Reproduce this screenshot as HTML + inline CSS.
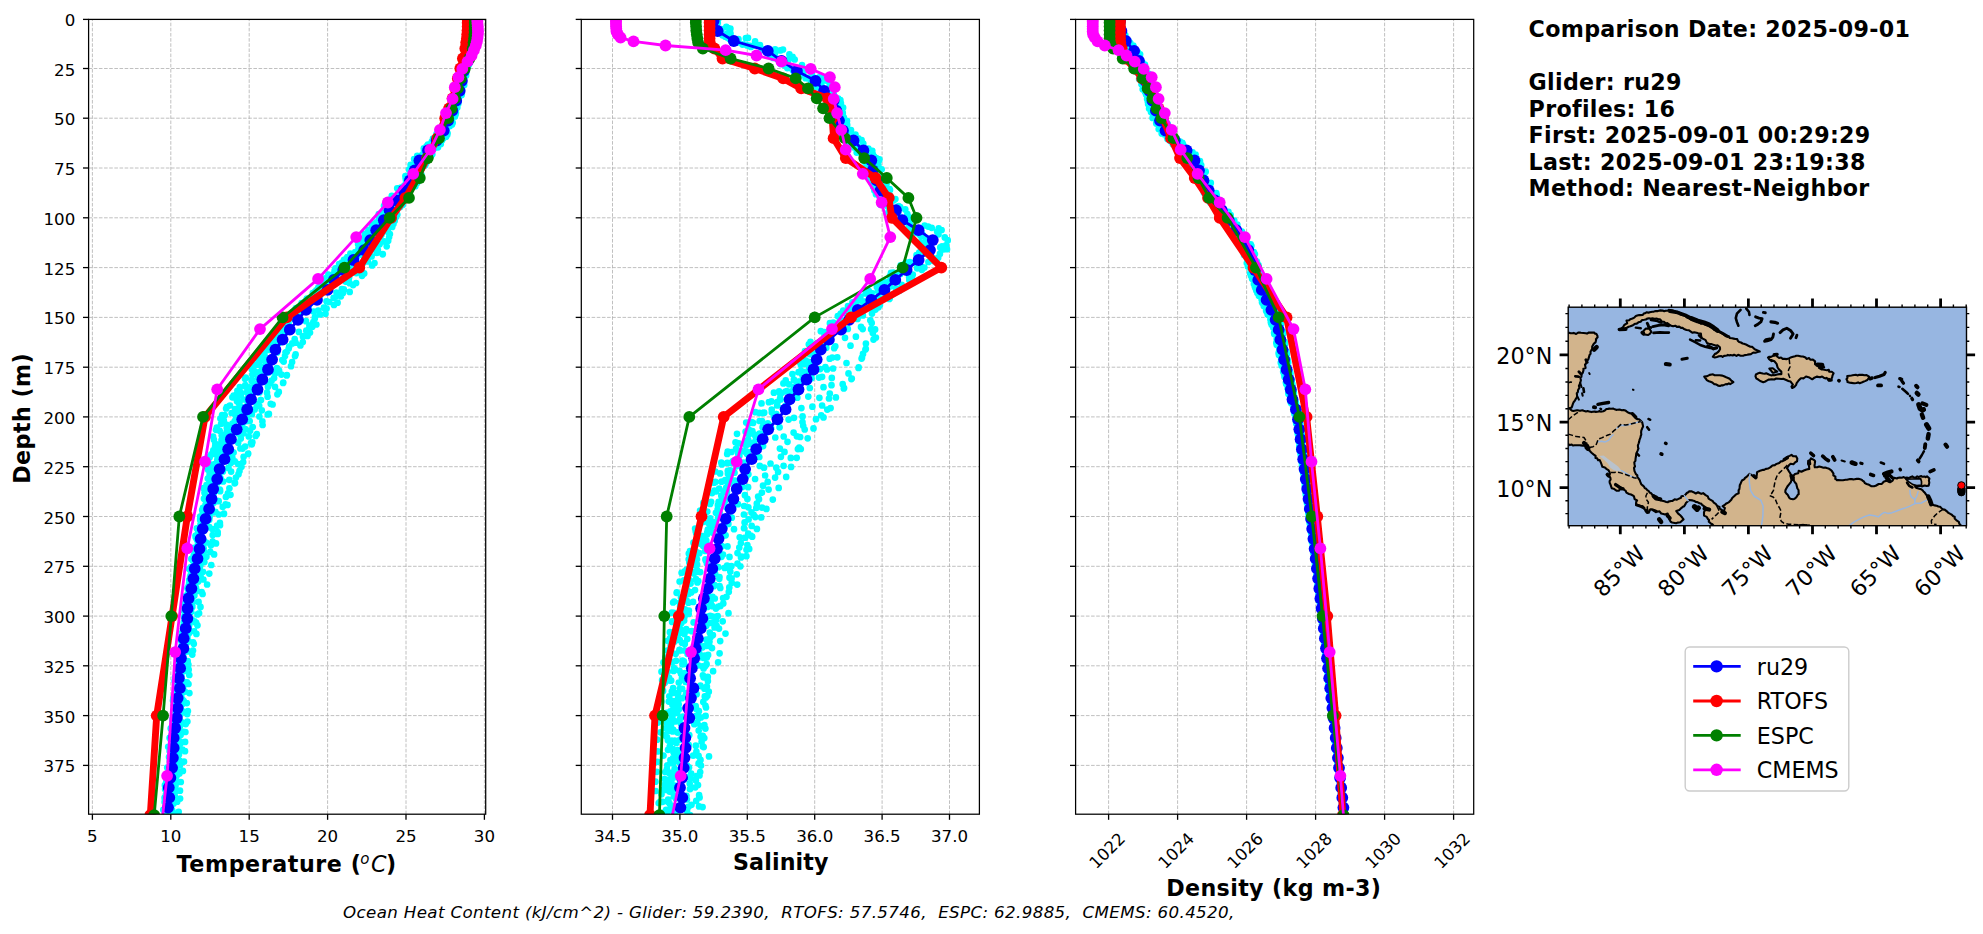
<!DOCTYPE html>
<html><head><meta charset="utf-8"><title>Glider comparison</title>
<style>html,body{margin:0;padding:0;background:#fff}svg{display:block}</style></head>
<body>
<svg width="1983" height="934" viewBox="0 0 1983 934" font-family='"DejaVu Sans","Liberation Sans",sans-serif'>
<rect width="1983" height="934" fill="#fff"/>
<defs>
<clipPath id="ca1"><rect x="88.6" y="19.4" width="397.1" height="794.8000000000001"/></clipPath>
<clipPath id="ca2"><rect x="581.3" y="19.4" width="398.1" height="794.8000000000001"/></clipPath>
<clipPath id="ca3"><rect x="1075.6" y="19.4" width="398.10000000000014" height="794.8000000000001"/></clipPath>
</defs>
<g stroke="#b0b0b0" stroke-width="0.8" stroke-dasharray="3.6 1.55" fill="none">
<path d="M92.4 814.2V19.4"/>
<path d="M170.8 814.2V19.4"/>
<path d="M249.2 814.2V19.4"/>
<path d="M327.6 814.2V19.4"/>
<path d="M406 814.2V19.4"/>
<path d="M484.4 814.2V19.4"/>
<path d="M88.6 68.5H485.7"/>
<path d="M88.6 118.2H485.7"/>
<path d="M88.6 168H485.7"/>
<path d="M88.6 217.8H485.7"/>
<path d="M88.6 267.6H485.7"/>
<path d="M88.6 317.4H485.7"/>
<path d="M88.6 367.2H485.7"/>
<path d="M88.6 416.9H485.7"/>
<path d="M88.6 466.7H485.7"/>
<path d="M88.6 516.5H485.7"/>
<path d="M88.6 566.3H485.7"/>
<path d="M88.6 616.1H485.7"/>
<path d="M88.6 665.8H485.7"/>
<path d="M88.6 715.6H485.7"/>
<path d="M88.6 765.4H485.7"/>
</g>
<g clip-path="url(#ca1)">
<path fill="none" stroke="#00ffff" stroke-width="6.7" stroke-linecap="round" d="M472.6 22.2h0M472.8 31.1h0M472.1 41.9h0M470.3 52.6h0M467.7 60.5h0M462.9 71.4h0M461 79.9h0M458.3 90.5h0M454.6 99.9h0M449.2 111.4h0M445.5 120.4h0M439 131.8h0M431.8 141.7h0M423.9 151.3h0M418.1 158.9h0M411.5 170.9h0M406.4 181.3h0M399.4 191.4h0M392.2 199.7h0M387.4 210.7h0M382 220.2h0M373.1 230.3h0M366.4 242.1h0M361.4 250.2h0M350 261h0M339.1 271.8h0M329.9 280.3h0M325.4 290.8h0M311.4 300.9h0M303 310.9h0M294.7 319.5h0M285.2 330.8h0M277 342h0M270.1 349.1h0M259.7 361.4h0M253.8 370.6h0M251.8 379.8h0M240.7 392.4h0M237 401.2h0M235.3 409.2h0M223.8 420.4h0M219.7 430.8h0M221.5 440h0M219.5 450.9h0M217.2 460.1h0M213.7 470.8h0M210.1 481.5h0M206.5 489.3h0M207 500.2h0M204.1 509.5h0M200.2 520h0M199.4 528.6h0M196.8 539.2h0M196 549.5h0M192.8 560.6h0M191 570.8h0M190.3 578.3h0M188.5 588.8h0M186.6 600.2h0M185.2 607.5h0M185.4 619h0M183.7 629.3h0M182.7 640.6h0M179.6 650h0M178.9 658.9h0M177.4 668.9h0M176.2 678.9h0M175.8 690.6h0M175.2 698.7h0M175.8 708.7h0M174.3 719.4h0M172.9 728.8h0M171.1 738.7h0M171.7 747.8h0M170.1 758.8h0M167.9 768.3h0M166.8 779.9h0M165.1 789.3h0M164.7 798.6h0M165.2 809.3h0M473.7 20.1h0M473.7 28.9h0M473.2 39.1h0M472.8 51.1h0M468.6 60.1h0M465.6 69.9h0M462.7 79.8h0M461.2 89.8h0M457.4 100.5h0M454.6 110.2h0M451.8 119.9h0M447 128.6h0M441.4 140.1h0M433.7 148.8h0M422.7 160.6h0M419.9 168.2h0M415 179.3h0M409.2 189.3h0M401.8 198h0M393 211h0M388.5 220.7h0M382.7 228.7h0M376.7 239.9h0M375.1 249.5h0M371.6 256.4h0M352.5 269.2h0M348.7 278.9h0M341.9 289h0M333.6 297.8h0M326.6 308.6h0M314.8 318.6h0M309.1 329.9h0M294.7 339h0M288.7 348.6h0M282.3 360.1h0M276.9 368h0M274.1 378.1h0M267.9 386.7h0M261 400h0M254.7 409.4h0M247.2 419.3h0M245.3 429h0M240.8 438.4h0M240.4 448.4h0M232.4 457.9h0M228.5 467.9h0M220.5 478.1h0M219.8 489.5h0M213.8 498.6h0M209.6 507.9h0M209.6 517.3h0M209.4 527.2h0M202.7 539.4h0M203.7 548.3h0M203 557.8h0M199.9 567.3h0M200.7 576.5h0M196 587.5h0M192 598.4h0M192.3 607.1h0M189 617.2h0M188.8 627.2h0M184.8 637.5h0M184.1 645.8h0M180.9 657.1h0M184.5 666.4h0M179.8 678.1h0M180.7 686.4h0M178.6 697.7h0M179.1 708.6h0M178.3 716.7h0M178.9 726.4h0M173.6 737.1h0M173.1 746.9h0M172.5 755.9h0M171.4 767.3h0M171.5 778.8h0M170.9 786.5h0M169.3 796.5h0M168.6 805.6h0M472.9 28.3h0M472.9 34.1h0M471.6 47.4h0M468.9 55.7h0M464.3 67.8h0M462 75.6h0M460.1 86.4h0M457.4 95.1h0M453.5 105.6h0M449.2 117.9h0M445.6 127.3h0M439.9 136h0M430.7 145.5h0M422.8 154.5h0M416.3 165.9h0M410.2 176.2h0M403.9 186.1h0M397.8 196.1h0M392 205h0M384.4 216h0M377.2 226h0M370.4 237.3h0M367.7 247.8h0M357.6 255.8h0M348 265.1h0M337.5 275.8h0M330.3 285.2h0M320.2 295h0M308.9 305.6h0M298.2 314.6h0M288.6 326.2h0M279.3 335.5h0M273 345.8h0M264.5 355.3h0M258.1 364.7h0M252.4 374.5h0M245.3 385.1h0M240.9 394.8h0M230 405.5h0M224.7 415.2h0M221.1 423.8h0M221.7 435.2h0M215.3 443.8h0M211.3 454.4h0M210.8 464.7h0M211.8 472.9h0M206.5 485h0M205.4 495h0M206.2 504.7h0M203 514.4h0M200.5 524.4h0M197.7 533.7h0M198.8 544.4h0M197.6 554.1h0M194.5 564.7h0M193.4 573.3h0M189.6 584.7h0M189.6 594.6h0M187.6 604.3h0M188.1 613.9h0M187.3 624.9h0M184.7 632.6h0M182.5 644.7h0M182.6 654.4h0M179.9 664.4h0M179 674.5h0M178.7 683.4h0M177.6 693.7h0M175.3 704.6h0M176.8 714.3h0M174.9 724.1h0M174.1 732.3h0M174.4 744.3h0M172.4 754.9h0M170.8 764.7h0M170.1 773.9h0M168.6 782.1h0M168.3 794.5h0M168 803.4h0M166.1 811h0M473.5 19.4h0M473.6 31.1h0M472.7 40.7h0M471.7 50.5h0M467.3 60.6h0M464 70.1h0M461.9 80h0M459.8 88.9h0M455.2 100.5h0M450.4 112.3h0M445.5 122.4h0M441.2 131.7h0M435.7 141.1h0M426.4 149.7h0M418.5 161.7h0M413.8 170.2h0M409.9 180.1h0M402.4 189.9h0M393.3 200.2h0M387.9 209.6h0M381.6 219.9h0M373.6 228.9h0M366.4 239.6h0M355.2 252.2h0M344 259.8h0M336.2 269.6h0M324.7 280.3h0M316.3 290.4h0M306.9 298.6h0M295.3 309.4h0M285 320.5h0M276.6 329.8h0M268.7 339.6h0M261.1 351h0M256.7 358.7h0M252 369.5h0M245 378.8h0M237.4 390.8h0M232.4 397.3h0M226.1 408.5h0M220.4 418.6h0M216 429.8h0M213.9 439.7h0M213.3 450.4h0M209.6 457.4h0M208.1 469.7h0M207.8 478.6h0M203.6 488.2h0M204.6 499.3h0M203 507.8h0M200.2 516.6h0M196.8 528.3h0M195.6 537.1h0M194.2 547.9h0M191.4 558.9h0M189 568.8h0M189.2 580h0M187.4 588.2h0M185.9 596.8h0M185.3 607.6h0M185.1 617.4h0M185.3 627h0M181.5 638.6h0M182.8 647.5h0M180.8 656.1h0M182.4 668.8h0M181.4 677.9h0M178.8 688.3h0M177.7 698h0M179.8 708.5h0M179.3 717.9h0M177.8 729h0M175.5 738.2h0M176.1 748.1h0M175.3 758.1h0M173.4 766.2h0M173 777.4h0M168 787.3h0M170.8 797.7h0M168 806.1h0M472.1 28.8h0M471.6 38.1h0M470.8 49.3h0M468.1 58h0M464 68h0M460.9 77.3h0M458.4 88.8h0M455.5 99.2h0M449.8 109.7h0M444.8 118.5h0M439.1 129.7h0M433 138.6h0M423.8 148.4h0M414.1 159h0M409 169.5h0M405.6 178h0M399.2 188.1h0M391.4 198.1h0M385.4 208.3h0M379.2 217.3h0M370.9 229.2h0M365.3 237.7h0M360.2 248.5h0M347.2 257.2h0M335.4 268.4h0M325 278.3h0M318.3 287.5h0M306.3 299.9h0M296 308.2h0M285.9 319.5h0M277.6 328.7h0M270.8 337h0M262.5 347.3h0M257 358h0M252.4 367.6h0M245.8 377.6h0M239.8 387.2h0M233.7 395.6h0M226.8 407.2h0M222.1 415.1h0M216.8 427.7h0M213.1 436.5h0M215.1 446.5h0M209.1 457h0M208.9 467.4h0M209.5 475.7h0M206.7 485.3h0M205.3 495.9h0M205.5 504.9h0M202.7 515.9h0M198.8 528.4h0M195.5 535.8h0M195.7 547.4h0M193.7 555.4h0M190.9 567h0M190.1 576.3h0M188.3 586.5h0M185.5 597.1h0M183.3 608.3h0M184.2 616.7h0M183.2 626.6h0M181.8 635.4h0M181.5 646.9h0M178.8 656.1h0M177.6 667.1h0M177.3 676.2h0M176.6 687.9h0M176.5 694.2h0M175.4 705.8h0M174.8 716.9h0M172.6 725.6h0M171.6 735.2h0M171.6 745.6h0M171.4 754.5h0M170.5 765.9h0M167.9 778.2h0M166.3 786.9h0M165.9 794.6h0M165.7 804.8h0M474.6 26.2h0M475.1 37.1h0M474.7 48.2h0M472.3 56.4h0M468.8 64.9h0M466.1 75.5h0M464.2 84.9h0M461.6 95.1h0M457.3 107.5h0M454.9 116.4h0M452 124.6h0M446.1 136.7h0M438 147.3h0M431.2 155.7h0M425.1 165.3h0M420.4 175.6h0M415.3 186.2h0M408.3 196.5h0M400.2 207h0M396 217h0M392.2 226.9h0M389.1 237h0M386.7 246.3h0M382.8 254.1h0M372.1 265.4h0M362 275.8h0M353.1 285.1h0M340.9 296.3h0M334 305h0M320.2 314.4h0M312.3 326.7h0M307.5 335.9h0M300.4 345.4h0M295 356.1h0M291 366.2h0M286.7 375.4h0M283.3 382.6h0M277.4 394.3h0M272.6 404.5h0M268.9 413.9h0M262.6 425h0M255.6 436h0M251.8 444.3h0M248.2 453.6h0M241.5 466.7h0M238.5 474.2h0M234.7 483.3h0M230.5 494.8h0M227.5 504.9h0M224 513.7h0M220 525.2h0M217.7 533.9h0M216 543.4h0M214.1 554.4h0M211.3 565h0M209.3 573.6h0M207.1 584.5h0M202.6 594h0M200.5 606.9h0M199.1 613.3h0M197.5 625.3h0M196.4 633.9h0M193.8 643.8h0M192.3 654.6h0M188.4 664.7h0M189.3 675h0M188.5 684h0M189.4 693.1h0M186.8 703.1h0M187.2 714.1h0M185.7 724.1h0M180.6 734.9h0M180.1 743.9h0M179 754.5h0M180 764.9h0M179.4 773.5h0M177 781.8h0M175.1 792h0M177.2 801.7h0M173 814.7h0M472.2 19.6h0M472.4 27.5h0M471.2 42.8h0M470.1 51.7h0M467.2 59.1h0M462.8 70.2h0M460.6 79.8h0M458.3 90.1h0M455.8 98.5h0M450.7 109.2h0M446 120.3h0M441.4 130h0M432.7 141h0M425.6 149.8h0M416.9 162h0M412.4 168.9h0M405.9 179.9h0M400.9 187.6h0M391.5 198.3h0M383.5 210.8h0M379 218.5h0M368.5 229.9h0M362.7 239.3h0M358.5 248.3h0M346.1 258.9h0M336.7 268.7h0M326 278.7h0M319.2 289.9h0M309 299.7h0M303.3 308.5h0M292 318.1h0M282.5 329.2h0M275.7 338.8h0M268.6 349.9h0M265.7 361.5h0M261.8 369.6h0M260.4 378.7h0M251.6 388.5h0M248 397.8h0M241.2 407.7h0M236.8 417.6h0M226.8 428.1h0M224.6 438h0M222.3 449.2h0M218.5 458h0M210 468.1h0M212 477.1h0M205.4 489.9h0M204 498.7h0M202.2 509.9h0M200.2 518.9h0M198.3 529.6h0M196 537.8h0M196.1 548.7h0M195.3 560.6h0M194.1 566.7h0M192.4 579h0M190.2 589.5h0M187.6 598.2h0M187.2 608.5h0M187.4 619h0M184.2 627h0M183.3 638h0M182.2 646.7h0M178.6 656.8h0M178 666.8h0M175 677.3h0M175.3 687.5h0M173.3 697.8h0M173.7 705.8h0M172.5 719.3h0M170.7 728.4h0M169.6 737.9h0M168.2 746.8h0M169 757h0M167.2 767.6h0M166.1 777.4h0M164.9 785.2h0M164.6 797.7h0M163.3 809.8h0M473.7 23h0M473.6 33.5h0M473 43.5h0M471.8 51.9h0M467.9 62h0M464.6 71.9h0M461.8 83.2h0M461 90.7h0M455.8 103.9h0M453.2 112.1h0M448.3 121.8h0M442.5 132.9h0M436.1 143.5h0M425.7 152.8h0M416.3 163.4h0M412.1 172.5h0M405.8 183.5h0M400.4 193.5h0M391.4 202.1h0M384.1 213.6h0M376.2 222.3h0M369.7 232.2h0M363.8 241.1h0M356.9 251.7h0M342.1 262.7h0M334.6 270.6h0M323.5 282.5h0M314.6 292.2h0M304.8 302.1h0M296 309.5h0M284.1 321.6h0M278.7 332.3h0M272.7 340.8h0M264 351.6h0M260.4 359.1h0M259.1 372.1h0M251.6 380.8h0M246.9 392.3h0M243.8 399.5h0M234.1 412h0M234.7 421h0M229 432h0M226.3 440.2h0M224.7 450.5h0M220.4 463.3h0M219.3 470.2h0M215.7 480.3h0M211.9 490.7h0M210.4 499.9h0M208.2 512h0M203.5 522.5h0M201.4 530.1h0M199.9 539h0M197.4 551.9h0M195.1 561.7h0M191.9 571.4h0M192.2 581.7h0M189.6 589.6h0M186.1 600.3h0M184.9 609h0M186.1 619h0M182.6 631.3h0M180.6 639.6h0M179.2 652.5h0M177.2 660.3h0M176.7 669.5h0M174.6 680.9h0M175.8 691.9h0M173 700.5h0M174.2 708.8h0M172.4 720.3h0M172.8 731.3h0M170.7 739.4h0M171 749h0M170.8 760.8h0M170.3 769.9h0M167.9 778.6h0M167.4 789.3h0M167.5 798.8h0M167.5 809.8h0M473.3 25.2h0M472.7 34.9h0M471.9 45.1h0M469.8 54.7h0M465.6 65.9h0M461.9 76.9h0M460.9 83.4h0M457.7 95.2h0M454 104.8h0M449.6 115.7h0M445.8 124.2h0M438.8 135h0M433.3 144h0M421.3 155.7h0M417 165.1h0M412 174.8h0M405.3 185.3h0M397.9 194.6h0M391 203.3h0M383.6 215.4h0M376.9 225h0M369.3 234.5h0M363.2 245.6h0M353.1 255.8h0M346.1 263.5h0M333.9 273.7h0M326.9 286h0M316.7 295.8h0M306.8 303.6h0M298.7 313.1h0M288.6 323.6h0M275.2 333.7h0M273.2 342.6h0M264.4 354.2h0M266.4 362.8h0M265.7 372.9h0M254.8 384.9h0M252.5 393.3h0M247.8 403.9h0M245.9 414.5h0M242.3 424.7h0M238.5 433.5h0M228 443.8h0M229.8 452.9h0M219.4 465.4h0M218.2 474.3h0M217.8 482.5h0M213.8 493.5h0M209 504.2h0M205.9 513.9h0M202.1 525.2h0M199.5 534.7h0M198.8 542.8h0M194.6 553.2h0M193.8 562h0M191 573.4h0M189.1 583.3h0M185.9 595.8h0M185.2 603.2h0M184 610.9h0M183.7 622.3h0M181.9 633h0M181.4 641.6h0M178.1 652h0M178.5 662.4h0M176.5 673.1h0M176.3 682.5h0M176 691.8h0M174.4 703.4h0M175.3 712h0M174.2 722h0M173.9 731.1h0M171.8 741.7h0M173.7 753.1h0M172.2 760.8h0M170.4 772.3h0M168.1 783h0M167.3 791.9h0M166.5 802.4h0M165.9 811h0M475 27.8h0M474.8 36.6h0M473.7 47.7h0M470.6 57h0M467 68h0M463.2 79.7h0M461.4 88.4h0M458.6 97.4h0M455.4 106h0M452.1 116.2h0M449.9 125.9h0M443.4 138.3h0M436.2 146.7h0M426.1 157.5h0M420.3 166.8h0M416.2 177.4h0M408.2 188.7h0M404.5 196.6h0M397.8 206.9h0M394.3 216.4h0M386.3 228h0M380.6 236.1h0M376 245.9h0M363.1 255.6h0M360.1 265.6h0M349.1 277.4h0M343.8 289.4h0M336.5 295.8h0M323.9 307.7h0M314.9 317h0M309.4 325.6h0M302.9 336.4h0M289.2 346.4h0M285 355.9h0M277.3 368.5h0M281.4 374.6h0M275 386.8h0M267.6 396.7h0M259.2 405.8h0M259.4 416.5h0M252.8 427.1h0M248.8 436.4h0M245.1 446.6h0M243.6 456.8h0M238.2 464.1h0M235.9 477.5h0M229.4 488.3h0M225.9 496.9h0M222.7 506.9h0M218.8 514.5h0M217.1 525.7h0M212.7 535h0M210.9 545.2h0M206.4 556.7h0M200.4 564.9h0M200.5 575.5h0M194.6 583.7h0M194.4 595.4h0M192.3 605.6h0M189 614.7h0M189.3 624.7h0M187.4 637.2h0M186.1 644.1h0M183.3 654.2h0M184.4 664.4h0M181.5 676.4h0M183.2 687.2h0M181.1 695.4h0M182.1 704.3h0M180.3 714.6h0M180 726h0M179.8 734h0M178.9 746.3h0M177.9 756.2h0M176.5 764.9h0M176.8 775.4h0M175.5 785.4h0M174.8 796.2h0M173.6 803.6h0M174.8 815.7h0M475.2 23.7h0M475.1 34.3h0M474.6 44.3h0M473.8 51.4h0M469.2 64h0M465.6 73.1h0M463.5 85.2h0M460.9 93.5h0M458 102.9h0M455 113.4h0M450.6 123.8h0M445 133h0M438.2 143.5h0M429.6 152.1h0M420.3 163.2h0M416.3 174.2h0M409.2 185.3h0M401.9 194h0M395.6 203.5h0M392.9 214.4h0M383.7 224.2h0M381.5 234.8h0M379.6 244.2h0M376.9 252.9h0M362.9 263.3h0M356.3 273.1h0M349.7 283.2h0M342.9 293.1h0M329.1 302h0M318.2 310.7h0M313.3 322.1h0M306.3 330.7h0M295.6 342.7h0M285.5 352.6h0M283.2 360.9h0M275.3 373.2h0M270 383.3h0M259.5 392.5h0M256.6 404.1h0M251.9 414.2h0M246.8 421.1h0M243.4 433.3h0M238.2 442.7h0M233.6 452.6h0M230.8 463.1h0M222.9 471.4h0M223.2 481.5h0M220.1 491.2h0M217.8 501.2h0M215.4 511.8h0M207.8 520.4h0M203.9 530.8h0M204.5 542.4h0M203.5 551.7h0M204.4 562.1h0M199.8 569.8h0M196.2 580.8h0M197.1 591h0M192.2 601.6h0M190.4 610.9h0M195.6 622.4h0M190.1 631.3h0M188.6 641.4h0M187.5 651.3h0M187.6 662h0M185.2 670.7h0M187 682.3h0M184.9 691.6h0M183.8 701.2h0M187.9 711.1h0M187.4 721.5h0M185.4 732h0M185.1 741.9h0M185 751.2h0M184 761.7h0M182.9 770.9h0M180.8 782h0M180 790.7h0M180.1 798.6h0M178.7 811.9h0M472.4 26.6h0M472.2 34.6h0M472.1 46.2h0M468.3 57.9h0M465.1 65.1h0M461.6 75.5h0M459 86.4h0M455.5 96.5h0M451.3 106.1h0M447.5 113.8h0M442.3 125.9h0M436.4 134.2h0M427.9 144.5h0M417.2 155.8h0M410.6 164.9h0M405.4 176h0M397.2 188.3h0M391.8 195.9h0M384 205.8h0M378.8 214.1h0M371.8 224.3h0M364.8 233.8h0M358.1 244.3h0M350.4 253.7h0M339.1 264.1h0M328.4 274.5h0M320.6 283.7h0M312.8 293.2h0M301.6 303.2h0M289.8 315h0M281.4 324.6h0M272 335.5h0M263.9 345.5h0M259.3 354h0M255.8 365h0M254.1 372.9h0M245.7 386.5h0M238.4 395.4h0M239.3 404h0M231.6 413h0M226.3 424.5h0M226.5 432.2h0M221.1 443.2h0M216.5 454.7h0M214.8 464h0M209.7 473.4h0M207.7 484.8h0M204.5 492.7h0M207.8 504h0M202.7 513.2h0M202.8 522.8h0M199 534.1h0M197.9 542.6h0M196.5 555.4h0M194.5 562.9h0M192.3 575.4h0M191.9 582.3h0M187.8 593.9h0M186.7 602.1h0M185.3 611.9h0M185.5 623.4h0M183.5 633.8h0M182.4 641.9h0M181.3 654.3h0M180.1 662.2h0M179.1 673.1h0M179.2 683.3h0M178.3 693.5h0M177.2 701.1h0M177.5 714.4h0M174.4 723.3h0M173.1 732.3h0M172.8 741.7h0M169.6 751h0M169.8 761.2h0M169.1 773.1h0M166.2 782.2h0M167.9 791.3h0M164.6 801.9h0M166.1 813.9h0M473.9 24.9h0M474.5 33.8h0M473.1 44.3h0M472 53h0M467 64.7h0M464.1 72.7h0M461.9 83.5h0M458.9 94.7h0M456.3 102.6h0M451.5 113.3h0M446.4 123.8h0M441.9 132.2h0M432.9 144.7h0M424.1 153.8h0M415.9 161.9h0M410.8 173.3h0M406.7 182.6h0M398.8 192.6h0M391 203.3h0M384.9 212.5h0M377.8 224.1h0M372.4 232.4h0M366.3 244h0M358.5 253h0M349.1 263.8h0M337.6 272.4h0M332.8 282.4h0M322.9 291.7h0M309.7 303.4h0M298.4 313.7h0M286.7 324.8h0M284 334h0M279 342.9h0M277.2 352.4h0M266.9 362.9h0M268.7 372.5h0M257.1 383.9h0M252.5 393.4h0M239.5 401.5h0M240.6 411.6h0M232.4 423.6h0M230.5 432.5h0M224.5 442h0M219.1 453.3h0M220.6 461.7h0M217 471.8h0M214.7 481.6h0M213.6 490h0M213.6 502.8h0M210 510.7h0M204.9 521.3h0M202.8 531.1h0M206.2 542.5h0M203.9 551.6h0M201.2 561.7h0M198.6 570h0M198.2 581.5h0M196.4 590.1h0M192.9 601.8h0M191.2 611.8h0M194.5 621.4h0M188.8 633.4h0M186.5 641.9h0M184.6 651.9h0M183.4 661.4h0M184.7 671h0M184.5 682.1h0M182.8 692.2h0M182 699.8h0M181.6 712.1h0M179.7 721.5h0M181.4 731.9h0M179.3 741.4h0M182.5 749.6h0M177.6 759.6h0M176.9 772.6h0M176.9 781h0M174.5 789.3h0M172.5 801h0M172.2 810.2h0M473 28.7h0M472.7 38.2h0M471.2 49.3h0M467.7 59.2h0M464.4 68.5h0M461.2 78.2h0M458.9 87.8h0M455.8 98.6h0M451.2 108.9h0M447 118h0M442.3 128.4h0M436.7 137.6h0M426.5 146.4h0M418.9 156.8h0M412.1 168.5h0M407.6 178.2h0M401 189.2h0M394.2 197.7h0M387.7 208.4h0M379.3 218.9h0M371.9 228.5h0M366.2 236.8h0M359.6 247.2h0M349.4 257.5h0M341.5 266.3h0M328.8 277.7h0M321 288.2h0M311.9 296.7h0M296.8 309.1h0M290.4 316.8h0M282.1 326.9h0M276.7 336.8h0M269.1 346.3h0M263.9 357.3h0M263.1 366.9h0M258 378.5h0M249.5 387.4h0M250.2 397.3h0M241.1 406.5h0M235.5 415.3h0M231.6 426.5h0M224 435.7h0M218.8 447.5h0M222 456.5h0M212.1 468.1h0M211.8 477.1h0M210.2 487.2h0M207.1 496.5h0M206.9 506.5h0M204.5 516.9h0M204.1 527.1h0M198.8 535.4h0M198 546.6h0M196.5 558.7h0M194.1 565.9h0M191.8 575.7h0M191.5 585.2h0M189.3 594.4h0M187.7 607h0M189.1 615.9h0M188.1 626h0M185.2 637.5h0M184.1 648.2h0M180.9 654.7h0M179.4 666.6h0M178.2 676.2h0M178.4 685.9h0M177.5 695.9h0M176.7 705.4h0M178.3 716.9h0M177.9 725.9h0M173.6 735.6h0M173.9 746.5h0M173 756.1h0M174.5 765.6h0M172.1 775.4h0M169.4 786.8h0M168.8 795.5h0M167.8 804.9h0M166.4 814.1h0M474 22.2h0M473.9 33.4h0M473.2 42.9h0M470.9 53.8h0M468.3 62.7h0M465.1 73.7h0M463.6 81.7h0M461.1 93.2h0M458.4 102.3h0M455.9 112.7h0M452.2 122.5h0M447.6 133.3h0M442 140.3h0M431.7 152.6h0M425.4 160.8h0M418.6 173.4h0M415.2 180.2h0M409.9 191.1h0M404.8 200.4h0M396.2 213.7h0M394.7 220.7h0M388 232.1h0M384.4 241.4h0M377.9 250.1h0M367.8 261.5h0M359 272.4h0M345.6 281.6h0M336.5 292.6h0M326.5 301.3h0M313.6 311.6h0M306 321.2h0M298.9 331.9h0M292.2 343.4h0M286.8 351.8h0M283.7 361.6h0M279.1 370.7h0M271.7 380.6h0M267 392.7h0M260.6 400.1h0M261.8 410.3h0M249.7 421h0M250.1 430.7h0M251 443h0M242.6 448.6h0M234.8 461.3h0M231.1 471.6h0M229.3 479.8h0M220.1 490.2h0M218.7 501.2h0M213.5 512.4h0M209.3 519.8h0M212.4 529.1h0M204.5 541.6h0M201.2 552.1h0M198.8 560.2h0M198 568.3h0M196.4 581.9h0M195.4 590.2h0M192.5 601.5h0M189.7 610.3h0M192 619.9h0M189.1 629.8h0M186.8 641.6h0M183.7 651.6h0M183.7 658h0M183.2 669.1h0M183.4 681.8h0M181.9 689.6h0M181.8 698.6h0M181.2 709.9h0M178 719.7h0M177.1 729.7h0M175.5 739.3h0M177.8 749.4h0M172.7 759.2h0M174.1 769.9h0M170.4 778.8h0M170.3 789.2h0M171.9 799.3h0M169 810.7h0M474.5 23.6h0M474.3 36.3h0M473.8 45.3h0M471.7 55.4h0M469.5 62.9h0M465.9 73.1h0M463.1 85.2h0M461.8 93.9h0M458.3 103.8h0M455.6 114.4h0M452.7 122.7h0M447.3 134.7h0M440.8 143.9h0M432.3 154.3h0M426.1 163.2h0M421.3 174.3h0M417.1 183h0M409.6 194.6h0M402.8 204.8h0M397.3 214.5h0M393.4 224.1h0M389.9 234.1h0M388.2 240.8h0M382.7 254.3h0M374.5 263.1h0M364.2 273.4h0M356.1 283h0M349.7 291.9h0M337.6 302.7h0M325.5 313.8h0M316.4 324.5h0M310 332.5h0M302.8 342.1h0M295.6 354.4h0M292.1 362.1h0M286.9 375h0M283.1 382.9h0M278.8 391.9h0M270.7 403.8h0M267.7 414.4h0M262.4 421.3h0M256.8 434.2h0M252.4 442.3h0M248 454h0M243.2 462.1h0M239.5 470.9h0M235 482.9h0M227.9 493.3h0M225.6 504.4h0M223.9 514h0M219.9 522.9h0M217.7 532h0M212.6 541.6h0M210.3 551.8h0M203.7 561.2h0M203 571.8h0M203.4 579.5h0M201.7 592.1h0M198.6 601.9h0M197.5 614.4h0M196.1 622.6h0M194.2 631.3h0M193.1 642.3h0M193 650.5h0M187.7 661h0M188.7 669.7h0M185 683h0M183.4 692.1h0M183.1 700.3h0M182.4 711.4h0M181.9 722.3h0M183.2 731.8h0M179.9 741.7h0M179.8 750.4h0M179.5 760.6h0M177.8 771.3h0M173.7 782h0M175.1 790.3h0M174 799.9h0M172.2 812.1h0"/>
<polyline points="473.5,21.1 473.5,31 473.1,41 471.9,50.9 468,60.9 464,70.9 461.9,80.8 459.7,90.8 456.2,100.7 452.3,110.7 448.1,120.6 443.7,130.6 436.6,140.5 428,150.5 419.4,160.5 414.7,170.4 409.9,180.4 403.7,190.3 395.8,200.3 389.6,210.2 383.8,220.2 376.2,230.2 370.3,240.1 364.2,250.1 353.5,260 343.3,270 333.9,279.9 327.6,289.9 317,299.9 306,309.8 298,319.8 289.8,329.7 282.6,339.7 275.4,349.6 272.1,359.6 268,369.5 262.4,379.5 257.5,389.5 251.1,399.4 247.2,409.4 242.2,419.3 236.7,429.3 230.9,439.2 228.2,449.2 224.5,459.2 219.6,469.1 217.2,479.1 213.2,489 211.6,499 209.1,508.9 205.6,518.9 202.7,528.8 200.6,538.8 199.5,548.8 197.5,558.7 194.7,568.7 193.4,578.6 191.4,588.6 188.5,598.5 187.6,608.5 187.3,618.5 185.7,628.4 183.7,638.4 183.4,648.3 180.9,658.3 180.1,668.2 178.8,678.2 179.8,688.2 177.7,698.1 177.7,708.1 176.8,718 175.2,728 173.7,737.9 173.7,747.9 172.9,757.8 172.1,767.8 170.4,777.8 168.8,787.7 169.3,797.7 168,807.6" fill="none" stroke="#0000ff" stroke-width="2.8" stroke-linejoin="round" stroke-linecap="butt"/>
<g fill="#0000ff"><circle cx="473.5" cy="21.1" r="5.9"/><circle cx="473.5" cy="31" r="5.9"/><circle cx="473.1" cy="41" r="5.9"/><circle cx="471.9" cy="50.9" r="5.9"/><circle cx="468" cy="60.9" r="5.9"/><circle cx="464" cy="70.9" r="5.9"/><circle cx="461.9" cy="80.8" r="5.9"/><circle cx="459.7" cy="90.8" r="5.9"/><circle cx="456.2" cy="100.7" r="5.9"/><circle cx="452.3" cy="110.7" r="5.9"/><circle cx="448.1" cy="120.6" r="5.9"/><circle cx="443.7" cy="130.6" r="5.9"/><circle cx="436.6" cy="140.5" r="5.9"/><circle cx="428" cy="150.5" r="5.9"/><circle cx="419.4" cy="160.5" r="5.9"/><circle cx="414.7" cy="170.4" r="5.9"/><circle cx="409.9" cy="180.4" r="5.9"/><circle cx="403.7" cy="190.3" r="5.9"/><circle cx="395.8" cy="200.3" r="5.9"/><circle cx="389.6" cy="210.2" r="5.9"/><circle cx="383.8" cy="220.2" r="5.9"/><circle cx="376.2" cy="230.2" r="5.9"/><circle cx="370.3" cy="240.1" r="5.9"/><circle cx="364.2" cy="250.1" r="5.9"/><circle cx="353.5" cy="260" r="5.9"/><circle cx="343.3" cy="270" r="5.9"/><circle cx="333.9" cy="279.9" r="5.9"/><circle cx="327.6" cy="289.9" r="5.9"/><circle cx="317" cy="299.9" r="5.9"/><circle cx="306" cy="309.8" r="5.9"/><circle cx="298" cy="319.8" r="5.9"/><circle cx="289.8" cy="329.7" r="5.9"/><circle cx="282.6" cy="339.7" r="5.9"/><circle cx="275.4" cy="349.6" r="5.9"/><circle cx="272.1" cy="359.6" r="5.9"/><circle cx="268" cy="369.5" r="5.9"/><circle cx="262.4" cy="379.5" r="5.9"/><circle cx="257.5" cy="389.5" r="5.9"/><circle cx="251.1" cy="399.4" r="5.9"/><circle cx="247.2" cy="409.4" r="5.9"/><circle cx="242.2" cy="419.3" r="5.9"/><circle cx="236.7" cy="429.3" r="5.9"/><circle cx="230.9" cy="439.2" r="5.9"/><circle cx="228.2" cy="449.2" r="5.9"/><circle cx="224.5" cy="459.2" r="5.9"/><circle cx="219.6" cy="469.1" r="5.9"/><circle cx="217.2" cy="479.1" r="5.9"/><circle cx="213.2" cy="489" r="5.9"/><circle cx="211.6" cy="499" r="5.9"/><circle cx="209.1" cy="508.9" r="5.9"/><circle cx="205.6" cy="518.9" r="5.9"/><circle cx="202.7" cy="528.8" r="5.9"/><circle cx="200.6" cy="538.8" r="5.9"/><circle cx="199.5" cy="548.8" r="5.9"/><circle cx="197.5" cy="558.7" r="5.9"/><circle cx="194.7" cy="568.7" r="5.9"/><circle cx="193.4" cy="578.6" r="5.9"/><circle cx="191.4" cy="588.6" r="5.9"/><circle cx="188.5" cy="598.5" r="5.9"/><circle cx="187.6" cy="608.5" r="5.9"/><circle cx="187.3" cy="618.5" r="5.9"/><circle cx="185.7" cy="628.4" r="5.9"/><circle cx="183.7" cy="638.4" r="5.9"/><circle cx="183.4" cy="648.3" r="5.9"/><circle cx="180.9" cy="658.3" r="5.9"/><circle cx="180.1" cy="668.2" r="5.9"/><circle cx="178.8" cy="678.2" r="5.9"/><circle cx="179.8" cy="688.2" r="5.9"/><circle cx="177.7" cy="698.1" r="5.9"/><circle cx="177.7" cy="708.1" r="5.9"/><circle cx="176.8" cy="718" r="5.9"/><circle cx="175.2" cy="728" r="5.9"/><circle cx="173.7" cy="737.9" r="5.9"/><circle cx="173.7" cy="747.9" r="5.9"/><circle cx="172.9" cy="757.8" r="5.9"/><circle cx="172.1" cy="767.8" r="5.9"/><circle cx="170.4" cy="777.8" r="5.9"/><circle cx="168.8" cy="787.7" r="5.9"/><circle cx="169.3" cy="797.7" r="5.9"/><circle cx="168" cy="807.6" r="5.9"/></g>
<polyline points="467.7,19.4 467.7,22.7 467.7,26.6 467.5,30.6 467.2,34.6 466.9,38.6 466.2,42.6 465.3,48.5 462.9,58.5 460.3,68.5 457.8,78.4 455.4,88.4 452.6,98.3 449.1,108.3 445.2,118.2 437.4,138.2 427.2,158.1 417,178 405.4,197.9 391.1,217.8 359.3,267.6 286.7,317.4 205,416.9 187.3,516.5 172.1,616.1 156.7,715.6 150.3,815.2" fill="none" stroke="#ff0000" stroke-width="6.9" stroke-linejoin="round" stroke-linecap="butt"/>
<g fill="#ff0000"><circle cx="467.7" cy="19.4" r="5.9"/><circle cx="467.7" cy="22.7" r="5.9"/><circle cx="467.7" cy="26.6" r="5.9"/><circle cx="467.5" cy="30.6" r="5.9"/><circle cx="467.2" cy="34.6" r="5.9"/><circle cx="466.9" cy="38.6" r="5.9"/><circle cx="466.2" cy="42.6" r="5.9"/><circle cx="465.3" cy="48.5" r="5.9"/><circle cx="462.9" cy="58.5" r="5.9"/><circle cx="460.3" cy="68.5" r="5.9"/><circle cx="457.8" cy="78.4" r="5.9"/><circle cx="455.4" cy="88.4" r="5.9"/><circle cx="452.6" cy="98.3" r="5.9"/><circle cx="449.1" cy="108.3" r="5.9"/><circle cx="445.2" cy="118.2" r="5.9"/><circle cx="437.4" cy="138.2" r="5.9"/><circle cx="427.2" cy="158.1" r="5.9"/><circle cx="417" cy="178" r="5.9"/><circle cx="405.4" cy="197.9" r="5.9"/><circle cx="391.1" cy="217.8" r="5.9"/><circle cx="359.3" cy="267.6" r="5.9"/><circle cx="286.7" cy="317.4" r="5.9"/><circle cx="205" cy="416.9" r="5.9"/><circle cx="187.3" cy="516.5" r="5.9"/><circle cx="172.1" cy="616.1" r="5.9"/><circle cx="156.7" cy="715.6" r="5.9"/><circle cx="150.3" cy="815.2" r="5.9"/></g>
<polyline points="474.7,19.4 474.7,22.7 474.7,26.6 474.6,30.6 474.4,34.6 474.1,38.6 473.5,42.6 472.7,48.5 469.5,58.5 464.8,68.5 460.9,78.4 457.8,88.4 455,98.3 451.5,108.3 448.1,118.2 439,138.2 427.8,158.1 419.8,178 409,197.9 389.6,217.8 344.4,267.6 282.6,317.4 203,416.9 179.3,516.5 171.3,616.1 163.1,715.6 154.2,815.2" fill="none" stroke="#008000" stroke-width="2.8" stroke-linejoin="round" stroke-linecap="butt"/>
<g fill="#008000"><circle cx="474.7" cy="19.4" r="5.9"/><circle cx="474.7" cy="22.7" r="5.9"/><circle cx="474.7" cy="26.6" r="5.9"/><circle cx="474.6" cy="30.6" r="5.9"/><circle cx="474.4" cy="34.6" r="5.9"/><circle cx="474.1" cy="38.6" r="5.9"/><circle cx="473.5" cy="42.6" r="5.9"/><circle cx="472.7" cy="48.5" r="5.9"/><circle cx="469.5" cy="58.5" r="5.9"/><circle cx="464.8" cy="68.5" r="5.9"/><circle cx="460.9" cy="78.4" r="5.9"/><circle cx="457.8" cy="88.4" r="5.9"/><circle cx="455" cy="98.3" r="5.9"/><circle cx="451.5" cy="108.3" r="5.9"/><circle cx="448.1" cy="118.2" r="5.9"/><circle cx="439" cy="138.2" r="5.9"/><circle cx="427.8" cy="158.1" r="5.9"/><circle cx="419.8" cy="178" r="5.9"/><circle cx="409" cy="197.9" r="5.9"/><circle cx="389.6" cy="217.8" r="5.9"/><circle cx="344.4" cy="267.6" r="5.9"/><circle cx="282.6" cy="317.4" r="5.9"/><circle cx="203" cy="416.9" r="5.9"/><circle cx="179.3" cy="516.5" r="5.9"/><circle cx="171.3" cy="616.1" r="5.9"/><circle cx="163.1" cy="715.6" r="5.9"/><circle cx="154.2" cy="815.2" r="5.9"/></g>
<polyline points="477.4,19.7 477.4,21.7 477.5,24 477.7,26.3 477.8,28.8 478,31.5 477.8,34.5 477.5,37.7 476.9,41.4 475.8,45.5 473.9,50.2 471.6,55.5 467.5,61.7 462.3,68.9 458.4,77.2 454.8,87.2 452.6,98.9 446,113.1 439.9,129.8 430.3,149.7 413.2,173.8 387.8,202.5 356.2,237.1 318.1,278.9 260,329.1 217.2,389.3 205,461.7 187.3,548.4 175.2,652.1 167.1,775.8 150.8,922.5" fill="none" stroke="#ff00ff" stroke-width="2.8" stroke-linejoin="round" stroke-linecap="butt"/>
<g fill="#ff00ff"><circle cx="477.4" cy="19.7" r="5.9"/><circle cx="477.4" cy="21.7" r="5.9"/><circle cx="477.5" cy="24" r="5.9"/><circle cx="477.7" cy="26.3" r="5.9"/><circle cx="477.8" cy="28.8" r="5.9"/><circle cx="478" cy="31.5" r="5.9"/><circle cx="477.8" cy="34.5" r="5.9"/><circle cx="477.5" cy="37.7" r="5.9"/><circle cx="476.9" cy="41.4" r="5.9"/><circle cx="475.8" cy="45.5" r="5.9"/><circle cx="473.9" cy="50.2" r="5.9"/><circle cx="471.6" cy="55.5" r="5.9"/><circle cx="467.5" cy="61.7" r="5.9"/><circle cx="462.3" cy="68.9" r="5.9"/><circle cx="458.4" cy="77.2" r="5.9"/><circle cx="454.8" cy="87.2" r="5.9"/><circle cx="452.6" cy="98.9" r="5.9"/><circle cx="446" cy="113.1" r="5.9"/><circle cx="439.9" cy="129.8" r="5.9"/><circle cx="430.3" cy="149.7" r="5.9"/><circle cx="413.2" cy="173.8" r="5.9"/><circle cx="387.8" cy="202.5" r="5.9"/><circle cx="356.2" cy="237.1" r="5.9"/><circle cx="318.1" cy="278.9" r="5.9"/><circle cx="260" cy="329.1" r="5.9"/><circle cx="217.2" cy="389.3" r="5.9"/><circle cx="205" cy="461.7" r="5.9"/><circle cx="187.3" cy="548.4" r="5.9"/><circle cx="175.2" cy="652.1" r="5.9"/><circle cx="167.1" cy="775.8" r="5.9"/></g>
</g>
<rect x="88.6" y="19.4" width="397.1" height="794.8000000000001" fill="none" stroke="#000" stroke-width="1.25"/>
<g stroke="#000" stroke-width="1.3">
<path d="M92.4 814.2v5.6"/>
<path d="M170.8 814.2v5.6"/>
<path d="M249.2 814.2v5.6"/>
<path d="M327.6 814.2v5.6"/>
<path d="M406 814.2v5.6"/>
<path d="M484.4 814.2v5.6"/>
<path d="M88.6 19.4h-5.6"/>
<path d="M88.6 68.5h-5.6"/>
<path d="M88.6 118.2h-5.6"/>
<path d="M88.6 168h-5.6"/>
<path d="M88.6 217.8h-5.6"/>
<path d="M88.6 267.6h-5.6"/>
<path d="M88.6 317.4h-5.6"/>
<path d="M88.6 367.2h-5.6"/>
<path d="M88.6 416.9h-5.6"/>
<path d="M88.6 466.7h-5.6"/>
<path d="M88.6 516.5h-5.6"/>
<path d="M88.6 566.3h-5.6"/>
<path d="M88.6 616.1h-5.6"/>
<path d="M88.6 665.8h-5.6"/>
<path d="M88.6 715.6h-5.6"/>
<path d="M88.6 765.4h-5.6"/>
</g>
<g font-size="16.67" fill="#000">
<text x="92.4" y="841.7" text-anchor="middle">5</text>
<text x="170.8" y="841.7" text-anchor="middle">10</text>
<text x="249.2" y="841.7" text-anchor="middle">15</text>
<text x="327.6" y="841.7" text-anchor="middle">20</text>
<text x="406" y="841.7" text-anchor="middle">25</text>
<text x="484.4" y="841.7" text-anchor="middle">30</text>
<text x="75.3" y="26.4" text-anchor="end">0</text>
<text x="75.3" y="75.5" text-anchor="end">25</text>
<text x="75.3" y="125.2" text-anchor="end">50</text>
<text x="75.3" y="175" text-anchor="end">75</text>
<text x="75.3" y="224.8" text-anchor="end">100</text>
<text x="75.3" y="274.6" text-anchor="end">125</text>
<text x="75.3" y="324.4" text-anchor="end">150</text>
<text x="75.3" y="374.2" text-anchor="end">175</text>
<text x="75.3" y="423.9" text-anchor="end">200</text>
<text x="75.3" y="473.7" text-anchor="end">225</text>
<text x="75.3" y="523.5" text-anchor="end">250</text>
<text x="75.3" y="573.3" text-anchor="end">275</text>
<text x="75.3" y="623.1" text-anchor="end">300</text>
<text x="75.3" y="672.8" text-anchor="end">325</text>
<text x="75.3" y="722.6" text-anchor="end">350</text>
<text x="75.3" y="772.4" text-anchor="end">375</text>
</g>
<g stroke="#b0b0b0" stroke-width="0.8" stroke-dasharray="3.6 1.55" fill="none">
<path d="M612.5 814.2V19.4"/>
<path d="M679.9 814.2V19.4"/>
<path d="M747.3 814.2V19.4"/>
<path d="M814.7 814.2V19.4"/>
<path d="M882.1 814.2V19.4"/>
<path d="M949.5 814.2V19.4"/>
<path d="M581.3 68.5H979.4"/>
<path d="M581.3 118.2H979.4"/>
<path d="M581.3 168H979.4"/>
<path d="M581.3 217.8H979.4"/>
<path d="M581.3 267.6H979.4"/>
<path d="M581.3 317.4H979.4"/>
<path d="M581.3 367.2H979.4"/>
<path d="M581.3 416.9H979.4"/>
<path d="M581.3 466.7H979.4"/>
<path d="M581.3 516.5H979.4"/>
<path d="M581.3 566.3H979.4"/>
<path d="M581.3 616.1H979.4"/>
<path d="M581.3 665.8H979.4"/>
<path d="M581.3 715.6H979.4"/>
<path d="M581.3 765.4H979.4"/>
</g>
<g clip-path="url(#ca2)">
<path fill="none" stroke="#00ffff" stroke-width="6.7" stroke-linecap="round" d="M713.9 20.8h0M719.5 31.3h0M732.8 39.6h0M764.3 49.6h0M783.1 60.2h0M795.5 69.6h0M812.5 79.3h0M824.1 91.4h0M830.7 99.5h0M832.8 108.7h0M836.6 120.1h0M841.3 131.4h0M849.5 139.6h0M860.3 150.7h0M869.8 159h0M869.2 168.9h0M873.7 178.7h0M878.7 189.2h0M884.6 201.1h0M893.1 208.1h0M905.1 220.8h0M915.8 228.2h0M930.3 238.9h0M928.7 249.9h0M917.1 259.7h0M907.5 269.3h0M896.9 277.3h0M884.3 289.3h0M874.6 297.8h0M858.9 311.4h0M852.7 318.6h0M847.8 328.9h0M828.9 337.5h0M834.2 348.2h0M837.3 357.3h0M827 369.5h0M811.6 378.2h0M800 389h0M797.3 397.7h0M787.4 407.9h0M788.6 419.6h0M779.6 427.3h0M783.7 436.5h0M779.9 448.6h0M759.3 457h0M764 467.7h0M755.1 479h0M748.1 487.2h0M747.4 498.9h0M748.4 507.3h0M748.6 519.4h0M734 529.2h0M739.7 537.3h0M739.3 547.6h0M729.5 556.9h0M724.7 567.9h0M719.3 578.8h0M713.8 586.2h0M714.8 598.5h0M712.4 606.2h0M712.9 616.6h0M716.6 625.6h0M706.2 639.5h0M702.3 647.4h0M702.2 657.5h0M691.5 666.6h0M688.5 678.3h0M691.1 685.1h0M687 697.1h0M686.8 709.3h0M682.9 716.6h0M685.3 727h0M686.7 737.6h0M687 746.1h0M684.8 756.9h0M687.7 767.8h0M686.9 777h0M678.7 787.1h0M683.3 796.3h0M681.6 806.9h0M713.6 21.1h0M716.8 30.7h0M729.2 38.7h0M761.6 49.6h0M776.8 58.6h0M792.7 69.9h0M808 78.4h0M820.8 90.2h0M828.7 99.6h0M834 110.1h0M836.4 119h0M841.3 127.6h0M851.9 140.8h0M860.7 148.8h0M869.9 160.3h0M871.4 169.3h0M877.1 179.5h0M880.2 190.7h0M885.3 199.1h0M893 210.1h0M898 217.2h0M912.1 229.5h0M926.1 238.4h0M926.5 248.4h0M919.1 258.5h0M907 268.8h0M894.3 280.1h0M889.9 286.5h0M874.1 298.4h0M862.1 307.6h0M851.7 319.4h0M843.3 327.8h0M830 338.6h0M826.3 347.7h0M818.7 358.8h0M820.1 369.1h0M819 377.6h0M809.8 388h0M794.1 396.5h0M783 408.2h0M775.3 418.7h0M762.6 427.2h0M756 438.9h0M746 445.6h0M739.4 455.8h0M736.4 466.2h0M730.3 477.1h0M726.2 487.5h0M729.1 497.4h0M726.3 507.4h0M718 518.1h0M711.4 526.9h0M702.2 536h0M703.2 546h0M697 559.3h0M694.5 564.8h0M687.7 577h0M686.5 588.5h0M681 597.5h0M680.1 606.2h0M684.4 617h0M679.8 627.8h0M670.1 638.1h0M670.6 645.9h0M665.4 657.5h0M665.2 667h0M669.1 677.8h0M673.1 688h0M669.3 696.3h0M672.5 705.1h0M671.7 716.9h0M665.8 728.2h0M667 737.1h0M669.7 746.6h0M675.6 758.7h0M667.3 765.3h0M674 777.2h0M674.7 785.6h0M673.8 796.2h0M674.1 806.2h0M714.4 24.6h0M722.5 35.3h0M742.5 44.6h0M771.4 55.5h0M784.9 65.6h0M802.5 74.8h0M815.8 84.7h0M824.4 94.3h0M829.6 104.6h0M835.3 113.1h0M837.7 124.6h0M844.8 134.4h0M852.8 143.3h0M868.2 156.2h0M872.1 163.1h0M873.1 173.1h0M878.6 184.2h0M882.3 192h0M890.5 203.1h0M897.9 212.3h0M909 222.8h0M921.8 233.6h0M928.5 244h0M920.2 254.7h0M904.2 264.4h0M893.9 274.7h0M885 284.1h0M871.7 293h0M853.5 304.5h0M846.2 312.9h0M833.3 322.7h0M826 334.8h0M819.3 344h0M812.7 353.4h0M803.8 363.9h0M801.9 374h0M798.4 381.7h0M781.4 392.9h0M777.6 401.8h0M762.2 413.1h0M751.7 422.2h0M748.7 434.2h0M738.7 443.3h0M731.5 452h0M721.3 462.7h0M715.3 471.5h0M714.1 482.7h0M712.1 493.1h0M703.4 502.8h0M700.1 510.6h0M702.8 522.1h0M696.1 532.9h0M693.5 542.7h0M688.8 553.5h0M692.1 561h0M681.6 572.8h0M679.6 581.5h0M676.8 592.3h0M673.1 602.5h0M671.9 612.7h0M672.1 621.4h0M669.9 632.2h0M667.7 640.8h0M667.3 650.5h0M663.5 662.4h0M661.5 671.7h0M662.1 680.1h0M663.1 690.9h0M661.4 701.7h0M659.3 713.2h0M657.9 722.6h0M660.5 732.3h0M657.1 739.7h0M657.7 751.4h0M657.3 761.9h0M656.7 771.8h0M655.5 781.7h0M655.6 791h0M658.7 803h0M663.5 812.7h0M718.3 19h0M729.2 28.3h0M755.1 41.4h0M783 49.5h0M794.7 59.5h0M807.9 68.9h0M827.1 80.8h0M833.5 89.5h0M840.4 100h0M843.1 107.7h0M847 120.9h0M851 130.1h0M861.6 140.2h0M872.3 150.8h0M879.4 159.4h0M881.7 169.3h0M886.1 180.2h0M890 189.9h0M895.4 199.1h0M905.3 209.4h0M913.3 218.8h0M941.6 230h0M947.7 240.1h0M947 249.2h0M933.7 261h0M924.4 267.5h0M912.1 278.8h0M899.5 290.7h0M889.7 298.5h0M878.4 307.3h0M870.3 320.3h0M875.1 329.4h0M875.9 337.6h0M865.4 349.5h0M862 357.7h0M858.7 367.3h0M851.8 378.5h0M844.1 388.1h0M835.9 397.4h0M830.6 408.1h0M823.5 417.4h0M813.5 428.4h0M807.7 438.3h0M800.8 449h0M796.7 457.8h0M791.1 466.9h0M786.2 476.9h0M778.7 487.9h0M772.8 499.6h0M766.4 508.9h0M761.2 517.4h0M756.9 528.9h0M752.2 536.7h0M749.2 548.9h0M741 557.4h0M729.4 568.5h0M731.6 578.4h0M729.3 587.4h0M723.1 598h0M718.5 606.5h0M714.6 617.5h0M719 628.6h0M709.5 641.6h0M712 648.1h0M706.8 657.5h0M702.3 666.3h0M707.6 678.4h0M700.4 685.6h0M704.8 696.4h0M706 707.5h0M705.6 715.9h0M705.4 728.6h0M704.3 738.1h0M702.8 746.4h0M709 756.4h0M701 765.6h0M699.5 775.5h0M695.3 787.3h0M699.6 797.4h0M702.6 807.1h0M730.4 28.7h0M748 37.9h0M775.1 49.3h0M792.6 56.9h0M809.4 68.2h0M822.4 78.2h0M832.2 87.6h0M838.3 98.5h0M842.1 107.7h0M843.9 117.5h0M848.4 130h0M857.7 138.9h0M868.5 149.4h0M876.3 158.2h0M879.7 169h0M882.7 178.8h0M887.3 189.2h0M893.9 200.3h0M899.2 207.7h0M908.1 218.1h0M931.7 227.8h0M938.5 234.3h0M942 246.3h0M932.3 257.7h0M917.1 268.3h0M909.1 277h0M895.9 288.7h0M879.8 298.8h0M871.5 307.1h0M857.5 318.9h0M862.7 329.1h0M845 337.8h0M835.3 346.3h0M829.7 358.7h0M825.4 367.1h0M822.1 376.8h0M823.5 387.2h0M808.3 396.6h0M801.4 408.1h0M794 417.8h0M771.1 428.2h0M775.3 437.5h0M763.1 446.1h0M758.2 456.7h0M743.3 467.7h0M746.4 476.3h0M738.9 489.6h0M734.3 496.4h0M744.1 506h0M731.8 517.7h0M724.5 527.3h0M721.5 536.5h0M721.9 546.2h0M721.5 556.8h0M718.3 567.2h0M719.5 577.1h0M719.6 586h0M707.9 596.7h0M707.4 607h0M706.9 616.9h0M710.4 623h0M712.6 635.2h0M709.3 645.2h0M704.6 655.7h0M705.3 666.1h0M707.8 676.8h0M706.9 686.4h0M707.4 695.7h0M705.5 705.8h0M700.9 717.4h0M704.4 725h0M702.8 735.9h0M703.7 747.1h0M698.6 755.9h0M698.6 763.4h0M697.1 775.8h0M698 785h0M699.1 795.2h0M699.1 806.4h0M714.2 23.9h0M718.5 31.9h0M735.5 41.9h0M771.6 54.2h0M782.1 62.2h0M802.2 73.8h0M819.7 84h0M823.3 91.8h0M833.7 102h0M836 112.3h0M836.4 121.3h0M842.6 131.2h0M852.2 141.7h0M861 152.9h0M866.2 161.6h0M871.7 171.8h0M872 181.5h0M874.4 190.5h0M884.9 203.3h0M892.5 209.5h0M901.8 221.1h0M920.7 232.3h0M930.9 240.3h0M928.7 252.2h0M914.5 262.8h0M902.7 270.7h0M889.4 281.7h0M879.3 290.4h0M865.3 301.9h0M850.8 311.5h0M839.7 321.6h0M831 332.7h0M821.8 341.7h0M818.6 352.5h0M808.5 361.8h0M808.7 369.9h0M800.3 381.3h0M785.5 391.5h0M780.7 399.5h0M771.8 412.3h0M759.6 421h0M752.4 431.2h0M748.2 439.9h0M741.2 450.8h0M733 461h0M730.2 470.4h0M735 480.7h0M719.2 488.5h0M718.6 501.9h0M717.6 509.4h0M710.3 518.3h0M707.8 529.5h0M704.4 539.5h0M705.3 550.9h0M705.4 559.4h0M697.4 570.5h0M696 579.2h0M691.2 592.4h0M686.7 600.7h0M685.9 612h0M683.4 619h0M687 630.6h0M687.3 639h0M684.6 650.5h0M682.6 660.5h0M673.9 668.2h0M681.9 678.6h0M679.9 688.6h0M681.9 698.2h0M687 708.9h0M680.1 718.6h0M681.8 728.1h0M680.1 739.6h0M677.5 750h0M673 758.1h0M674.6 768.8h0M669.8 779.3h0M672.8 789.1h0M675.8 798.5h0M667.8 810h0M715.6 20.1h0M721.5 29.2h0M738.5 39.2h0M780.3 50.4h0M788.2 60h0M798.5 68.6h0M820.5 79.6h0M829.1 90.6h0M835.7 98.9h0M840.8 109.1h0M842.7 121.6h0M849.8 131.3h0M858.3 138.3h0M868.4 148.5h0M879.2 160.2h0M877.6 168.6h0M883.7 179.5h0M889.6 189.2h0M891.9 200.2h0M900.2 207.1h0M909.3 217.4h0M938.7 228.3h0M947.7 240.5h0M943.7 249.3h0M938.2 257.7h0M921.8 269.8h0M909.3 280h0M901.5 289h0M889.3 298.9h0M875.5 309.6h0M870.4 320.3h0M871.1 329.2h0M873.5 339.6h0M865.8 348.9h0M861.6 358.6h0M858.5 368h0M851.4 379.1h0M843.8 388.5h0M829 398.5h0M827.3 409.6h0M816 419.2h0M804.7 429.5h0M800.2 437h0M797.9 449.1h0M790.8 457.9h0M776.3 467.7h0M775.1 477.6h0M768.6 489.6h0M759 499.2h0M762 507.6h0M755.3 517.1h0M744 528.2h0M745.2 537.7h0M746.5 549.8h0M741.7 556.6h0M731.4 566.2h0M729.5 577.7h0M720.3 588h0M713.1 598h0M715.9 608.6h0M716 619.9h0M714.6 627.4h0M710.5 637.2h0M709.1 645.9h0M704 657.9h0M703.6 668.4h0M703.6 677.3h0M704.5 688.7h0M705.9 697.5h0M696.3 708.9h0M699.3 717.7h0M700.6 726.3h0M700.6 736.7h0M695.8 745.7h0M693.4 755.5h0M689 767.4h0M690.9 778h0M690.1 789h0M684.3 797h0M688.5 806.7h0M714.9 25.4h0M721.3 33.7h0M747.2 45.4h0M768 53.3h0M786.9 66.2h0M801.2 74.8h0M814 83.5h0M825.2 95.9h0M829.5 105.7h0M832.2 113.9h0M837.5 126.7h0M841.1 133.4h0M855.3 144.7h0M865.4 155.5h0M868.7 162h0M872.5 175.3h0M874.1 184.2h0M876 194.2h0M883.9 203.1h0M892.6 214.4h0M900.3 222.9h0M915.5 233h0M925.8 243.5h0M919.2 252.7h0M900.7 265.4h0M893.3 272.5h0M881.1 283h0M865.6 293.4h0M852.4 303.7h0M840.3 314.4h0M832.3 324.4h0M825.9 333.3h0M817.3 343.1h0M813.1 353.5h0M807.8 364.3h0M802.7 374.1h0M797.4 382.8h0M791.6 391.3h0M777.2 405.4h0M776.4 414.2h0M767.8 423.4h0M759.6 433.5h0M753.8 442.6h0M748.3 452h0M743.5 462.7h0M734.5 472.7h0M735.2 482.3h0M727 491.4h0M722.3 502.5h0M718.7 513.4h0M715.3 522.2h0M707.1 532.7h0M705.3 540.6h0M696.6 552.4h0M689.3 562.4h0M684.8 571.3h0M689.3 580.8h0M676.6 592.8h0M674.1 601.6h0M673.9 612.8h0M672.1 621.9h0M672.6 632.9h0M672.3 641.9h0M668.3 650.7h0M672.6 662h0M667.7 671.8h0M664.8 682.7h0M671.8 691.5h0M668.8 701.6h0M666.7 712.8h0M667 723h0M677.8 732.6h0M670.9 742.8h0M673.5 752.2h0M671 762.5h0M671.9 772.5h0M670 782h0M669.5 791.6h0M667.9 801.7h0M666.9 813.9h0M714.4 23.9h0M723.3 35.6h0M743 44.5h0M770.3 55.3h0M780.6 63.9h0M794.6 73.3h0M811.3 82h0M821.1 93.3h0M828.5 101.1h0M830.6 112.9h0M834.1 124.8h0M838.5 133.4h0M848.8 144.2h0M856.7 152.6h0M864.3 161.6h0M867.3 172.5h0M871.5 182.5h0M876.3 194.1h0M880.5 204.8h0M888.4 212h0M897.1 222.4h0M913.2 232.5h0M920.2 242.3h0M920.9 251.4h0M905.8 262.6h0M891 272.9h0M880.1 282.8h0M868.9 291.2h0M852.4 302.3h0M843.2 310.6h0M829.9 323.2h0M820.8 331.2h0M810.5 341.9h0M805 351.7h0M798.8 361.5h0M800.7 371h0M785.7 380.3h0M780.2 393.7h0M768.9 402.2h0M755.5 412.2h0M748.1 423.9h0M745.6 431.7h0M735.5 442.3h0M727.7 451.7h0M727.3 462.9h0M729.3 472.1h0M715.4 481.9h0M716.3 491.3h0M711.1 501.8h0M705.7 512.6h0M701 519.4h0M695.7 531.3h0M698.3 540.9h0M695.3 551h0M688.7 559.3h0M694.4 571.9h0M683.9 580.3h0M687.7 590.9h0M682.6 600.6h0M685 609.4h0M684.2 620.5h0M686.2 629.1h0M679.8 640h0M680.8 650.5h0M676.1 660.8h0M679.5 670.8h0M669.8 680.6h0M678.2 692.8h0M675.6 701.1h0M674.6 709.4h0M673.1 719.9h0M673.3 729.9h0M667.9 740.3h0M668 749.8h0M673.3 759.5h0M665.3 772h0M671.5 780.3h0M665.9 789.9h0M668.4 800h0M666.1 809.9h0M715.1 26.9h0M725.3 36.7h0M750.9 46.9h0M773.2 58h0M787.3 68.1h0M805.6 78.2h0M815.8 87.2h0M823.9 96.6h0M831.3 105.1h0M830.6 117.4h0M835.7 127.5h0M843 136.3h0M854.2 147.4h0M862.3 157.8h0M866.4 166.6h0M869.9 177.5h0M873.1 186.7h0M878.4 194.7h0M887.3 205.9h0M895.5 215.9h0M910.3 226.8h0M920.4 235.4h0M927 245.7h0M916.5 255.2h0M903.5 266h0M889.9 276.1h0M876.9 287h0M860.4 296.7h0M848 306.1h0M837.8 316.1h0M832.3 325.9h0M824.5 335.9h0M817.4 347.3h0M811.6 353.2h0M811 365.5h0M802.7 375.9h0M793.9 386.7h0M791.2 394.4h0M785.5 405.8h0M773.8 416.3h0M764.3 424.9h0M765.2 433.4h0M754.6 444.9h0M747.1 454.1h0M759.8 465.9h0M748.4 474.3h0M742.3 486.9h0M744.9 495.2h0M737.9 504.2h0M743.9 514.5h0M728.4 523.9h0M725.6 535.3h0M727.5 546.4h0M723 554.6h0M727.1 565.7h0M715.2 573.8h0M714.6 585h0M712.6 596.9h0M710.7 603.2h0M710.1 615.8h0M706.3 625.7h0M709.8 632.6h0M699.3 643h0M699.4 653.4h0M698.1 665.3h0M691.2 673.9h0M689.9 684.1h0M685.8 694.9h0M678.7 704.3h0M673 714.4h0M671.2 723.8h0M664.8 735.2h0M670.4 743.2h0M663.5 755.6h0M673.1 763.6h0M669.2 773.1h0M664.8 784.5h0M661.5 794.2h0M660.1 801.8h0M664.2 813.9h0M717 24.9h0M727.2 33.6h0M754.3 45.3h0M774.9 53.4h0M788.1 64.3h0M803.4 72.4h0M821.4 83.4h0M828.4 94.5h0M835.3 103.5h0M838.8 113.5h0M840.3 124.7h0M846 133.8h0M856.6 145h0M864.9 151.4h0M871.3 164.3h0M872.6 174.2h0M874.1 182.1h0M879.1 192.3h0M888.1 204.4h0M893.4 212.4h0M901.4 222.8h0M919.1 234h0M923.4 243h0M918.7 253.8h0M909.3 262.4h0M893.5 273.5h0M880 284.3h0M869.6 293.5h0M857.3 300.9h0M840.8 313.7h0M833 323.1h0M824.5 332.1h0M808.8 344.3h0M805 351.2h0M800.9 364.7h0M798.6 372.2h0M789 384.3h0M773.9 392.7h0M771.4 401.4h0M764.2 412.7h0M753.1 422.9h0M747.9 433.1h0M744.5 443.5h0M744.7 451.6h0M730.7 462.9h0M731.8 473.1h0M727.2 482.1h0M723.5 491.4h0M725 501.3h0M718.9 512.9h0M708.4 522.9h0M707.5 531.3h0M706.3 540.7h0M699.3 553.2h0M705.8 560.4h0M700.2 572.1h0M698.3 581.1h0M695 590.1h0M693.1 601.9h0M683.7 611.6h0M681.4 623.1h0M684.4 633.9h0M674.6 641.4h0M671.7 652.6h0M667.5 662.6h0M673.6 671h0M671.2 680.6h0M674.2 693h0M672.7 701h0M670.4 711.3h0M669 721h0M667.9 731.1h0M674.8 740.6h0M676.8 751.9h0M683.9 762.3h0M678.8 770.7h0M679.7 779.6h0M678.4 791h0M686.9 799.5h0M677.9 810.2h0M715.2 26.6h0M722.7 35h0M748.5 45.8h0M769 53h0M784 64.6h0M799.5 73.4h0M816.8 85.1h0M825.7 94.9h0M834.3 104.1h0M833.8 115.7h0M838.3 125.1h0M843.4 134.2h0M855.5 144.2h0M864.4 153.2h0M874.8 164.4h0M875.4 176.6h0M880.1 183.8h0M884.1 194.9h0M888.2 203.9h0M898.4 215.2h0M910.1 224.8h0M922.3 234.1h0M931 242.5h0M926.2 253.7h0M909.5 265.3h0M900.3 273.9h0M889.6 284.7h0M878.9 293.6h0M863.3 302.2h0M849.3 314.4h0M841.3 324.2h0M831.3 333.3h0M820.1 343.4h0M809.6 354.1h0M804.5 363.1h0M792.4 374h0M783.4 383.4h0M779.1 391.3h0M761.5 403.4h0M759.4 412.9h0M746.2 422.6h0M737 433.8h0M736.7 442.9h0M727.2 453.9h0M721.8 464.4h0M720.1 473.4h0M721.5 481.7h0M726.9 492.4h0M710.1 504h0M715.9 512.8h0M712.7 522.2h0M713.4 532.9h0M706.6 543.4h0M698.1 553.2h0M706.9 563.5h0M696.1 572h0M697.4 582.5h0M690.6 592.5h0M688.4 602.7h0M688.9 610.6h0M693.6 622.4h0M691.8 631.2h0M684.8 643.9h0M687.6 654h0M684.3 664.1h0M684.9 673.2h0M685.6 681.9h0M686.6 693.2h0M678 702.1h0M677 712.8h0M675.9 721.3h0M672.6 731.5h0M670.7 742.5h0M678.8 753.8h0M671.3 762h0M673.8 774.2h0M669.1 784.6h0M671.5 790.6h0M662.6 801.8h0M672.7 810.8h0M726.3 26.9h0M745.9 38.2h0M780.8 50.3h0M789.4 58.5h0M802 66.7h0M819.3 77.4h0M830 89.2h0M834.3 96.4h0M840 107.6h0M843.7 117.4h0M848.1 129.8h0M853.1 137.3h0M866.5 148.9h0M874.4 156.9h0M876.2 166.7h0M880.7 178.5h0M883.1 188h0M890 195.7h0M898.7 208h0M906.2 217.9h0M928.2 226.6h0M944.8 237.4h0M940.3 247.4h0M931 256.6h0M921.3 266.5h0M910.1 276.4h0M901.6 286.7h0M885.9 295.6h0M869.9 306.8h0M862.9 315.4h0M861 326.9h0M855.9 336.7h0M850.5 345.7h0M832.2 357.5h0M833.1 368.5h0M831.8 377.9h0M831.5 385.2h0M819.4 397.8h0M812.4 406.7h0M802.6 416.4h0M803.2 425.8h0M796.9 436.3h0M799.2 447.7h0M780.9 456.8h0M783.6 465.8h0M765.1 475.5h0M763 485.7h0M758.1 496.6h0M756.3 507.9h0M753.7 514.9h0M751.7 525.9h0M750.7 535.5h0M747.4 545.1h0M746.4 556.2h0M740.4 566.3h0M736.8 574.3h0M737.2 584.6h0M726.5 596.8h0M720.4 605.9h0M717.7 616.1h0M715.6 625h0M712.9 635.1h0M705.3 645.9h0M708.1 654.9h0M706.6 664.2h0M702.9 675.3h0M700.7 686.1h0M696.6 694.2h0M695.7 706.2h0M696.3 715.8h0M694.3 724.2h0M689.3 735h0M688.7 744.9h0M693.1 755.6h0M687 765.5h0M691.2 773.6h0M689.7 783.5h0M686.5 795.8h0M691.5 804.8h0M690 815.1h0M717.8 23.1h0M730.5 33.4h0M760 45.2h0M789.4 54.4h0M802 65h0M811.9 73.7h0M829.8 84.4h0M833.8 94.4h0M840.9 103.1h0M842.8 112.9h0M847.2 124.9h0M855.5 134.6h0M863.3 143.5h0M872.9 154.3h0M878.4 165h0M881.9 176.1h0M886.6 183.4h0M889.2 194.8h0M898.7 206.2h0M907.4 214.2h0M924.6 225.5h0M937.1 231.5h0M946 245.4h0M939.9 253.9h0M928.4 262h0M912.8 274.6h0M901.7 284.8h0M890.9 294.9h0M879.9 304.9h0M872 313.6h0M871.7 322.9h0M872.8 333.1h0M865.9 343.5h0M863 353.9h0M846.5 363h0M848.5 373.4h0M842.7 384.2h0M829.8 393.6h0M822.1 405.5h0M821.2 415.3h0M802.5 422.1h0M793.6 432.6h0M787.5 441.8h0M784.5 451.9h0M770.5 463.5h0M778.1 472h0M767.7 481.9h0M761.9 492.6h0M756.8 503.6h0M751.5 512.4h0M744.6 522.4h0M748.2 533.6h0M740.9 543.1h0M737.5 553.1h0M737.5 563.5h0M730.3 571.5h0M731.7 582.7h0M728.8 591.8h0M723.3 603.4h0M728.5 613.2h0M722.7 621.3h0M725.5 633.6h0M720.2 641.1h0M719.6 653.3h0M718.1 662.3h0M713.1 671.2h0M707.9 681h0M708.8 691.7h0M703.3 701.9h0M698.9 711.2h0M697.3 722.4h0M698.7 730.5h0M701.6 741.8h0M696.4 751.7h0M700.5 759.9h0M700.2 772h0M695.9 780.4h0M689.9 789.1h0M696.2 800.9h0M687.1 811.3h0M714.2 23.8h0M716.5 30.2h0M737.3 42.4h0M767.8 52.5h0M782.3 62.3h0M797.3 71.3h0M816.2 81.7h0M823.1 90.6h0M832.1 102.1h0M836.7 112.4h0M838.5 121.2h0M843.2 130.9h0M854.6 141.3h0M864.4 151.7h0M870 161.7h0M871.8 171.5h0M875.9 181.6h0M877.3 190.2h0M881.8 198.8h0M893.9 212h0M901.9 222.8h0M913.3 230h0M927.1 240.7h0M923.4 251.6h0M909.8 262.2h0M900.3 271.8h0M885.6 282.4h0M877.8 291h0M863.4 301.4h0M845.5 311.4h0M842.1 320.5h0M827.3 332.1h0M820.6 341.5h0M810.4 351.8h0M805.5 360.4h0M802.7 371.7h0M793.9 379.7h0M786.7 391h0M780.1 398.1h0M771.7 409.6h0M762 421.2h0M749.2 430h0M747.1 440.6h0M736 448.8h0M734.2 461.9h0M727.8 470.9h0M725.2 480.2h0M714.5 490.6h0M721.6 500.5h0M707.3 511.5h0M702.8 520.3h0M695.1 528.6h0M698 539.7h0M690 551.2h0M692.7 560.5h0M686.6 569.5h0M689.7 580.4h0M685.6 589.9h0M686 600.3h0M680.7 608.1h0M680.7 618.8h0M684 630.3h0M678.8 639.3h0M679.4 649.9h0M683.9 661.4h0M675 669.1h0M683.1 679.6h0M682.2 688.8h0M678 698.7h0M678.9 709.2h0M680.9 717.8h0M671.1 727.1h0M671.9 740.5h0M672.8 749h0M670.4 760.1h0M666.9 769.1h0M664.6 779.1h0M663.7 789.6h0M668.1 799.6h0M670.6 807.6h0M715.4 26.5h0M727.3 37.5h0M749.9 45.9h0M773.1 55.8h0M789.1 65.7h0M807.7 77.8h0M817.4 84.1h0M827.7 96.2h0M832.6 106.3h0M836.9 115.9h0M839.8 128h0M846.4 136.9h0M856.5 146.5h0M864.9 154.9h0M867.5 166.1h0M872.3 175.3h0M875.2 185.6h0M878.9 195.7h0M887.7 205h0M896.7 216h0M908.6 226.9h0M921.3 236.3h0M926.5 245.5h0M920 253.5h0M900.7 266.3h0M890 276.2h0M880.8 285h0M869.7 294.7h0M853.7 305.7h0M849.5 314.3h0M838.6 325.7h0M830.8 333.9h0M824 344h0M813.3 354.9h0M812.5 363.4h0M808.7 374.8h0M799.2 385.2h0M792.7 393.4h0M785.9 405.5h0M776.2 414.1h0M769.1 425.1h0M754.4 434.7h0M749.4 444h0M738.2 453.9h0M735.8 462.8h0M727.9 473.7h0M729.1 483.6h0M721.3 495.8h0M717.9 505.2h0M719.7 512.9h0M713 524.9h0M707.2 534.3h0M700.5 543.7h0M695.9 554.4h0M697.1 564.7h0M693.9 573.4h0M690.6 583.6h0M688.5 594h0M679.8 602.8h0M688.7 613.9h0M680.7 623.6h0M679.5 633h0M682 642.8h0M675.7 653.8h0M682.5 664.3h0M681 673.8h0M678.8 682.6h0M677.5 694.1h0M677.6 703.5h0M672.6 713.8h0M681.1 724.3h0M677.6 732.4h0M676.3 743h0M675.6 752.6h0M679.4 762.3h0M679.8 774.9h0M670 783.9h0M671.8 791.3h0M669.5 803.3h0M675.3 812.3h0"/>
<polyline points="713.6,21.1 717.6,31 733.8,41 767.8,50.9 781.5,60.9 796.9,70.9 815.5,80.8 824.1,90.8 833.6,100.7 836.3,110.7 839,120.6 843,130.6 853.5,140.5 863.4,150.5 871.3,160.5 872.7,170.4 876.7,180.4 880.5,190.3 886.1,200.3 896,210.2 902.3,220.2 918.6,230.2 932.8,240.1 930,250.1 918.6,260 906.6,270 895.3,279.9 884.4,289.9 871.3,299.9 857.8,309.8 849.1,319.8 841,329.7 828.9,339.7 820.8,349.6 816.7,359.6 813.5,369.5 806.6,379.5 798.5,389.5 789.6,399.4 785.6,409.4 777.5,419.3 768.2,429.3 762.7,439.2 756.2,449.2 751.6,459.2 745.1,469.1 742.7,479.1 736.7,489 733.4,499 730.6,508.9 725.7,518.9 721.7,528.8 718.5,538.8 717,548.8 714.7,558.7 712.3,568.7 709.8,578.6 707.9,588.6 703.9,598.5 701.1,608.5 702.3,618.5 700.7,628.4 697.8,638.4 695.8,648.3 694.2,658.3 691.8,668.2 690.1,678.2 693.4,688.2 691,698.1 688.1,708.1 689.3,718 684.5,728 685.3,737.9 685.6,747.9 684.5,757.8 683.7,767.8 682.1,777.8 680,787.7 682.3,797.7 680.4,807.6" fill="none" stroke="#0000ff" stroke-width="2.8" stroke-linejoin="round" stroke-linecap="butt"/>
<g fill="#0000ff"><circle cx="713.6" cy="21.1" r="5.9"/><circle cx="717.6" cy="31" r="5.9"/><circle cx="733.8" cy="41" r="5.9"/><circle cx="767.8" cy="50.9" r="5.9"/><circle cx="781.5" cy="60.9" r="5.9"/><circle cx="796.9" cy="70.9" r="5.9"/><circle cx="815.5" cy="80.8" r="5.9"/><circle cx="824.1" cy="90.8" r="5.9"/><circle cx="833.6" cy="100.7" r="5.9"/><circle cx="836.3" cy="110.7" r="5.9"/><circle cx="839" cy="120.6" r="5.9"/><circle cx="843" cy="130.6" r="5.9"/><circle cx="853.5" cy="140.5" r="5.9"/><circle cx="863.4" cy="150.5" r="5.9"/><circle cx="871.3" cy="160.5" r="5.9"/><circle cx="872.7" cy="170.4" r="5.9"/><circle cx="876.7" cy="180.4" r="5.9"/><circle cx="880.5" cy="190.3" r="5.9"/><circle cx="886.1" cy="200.3" r="5.9"/><circle cx="896" cy="210.2" r="5.9"/><circle cx="902.3" cy="220.2" r="5.9"/><circle cx="918.6" cy="230.2" r="5.9"/><circle cx="932.8" cy="240.1" r="5.9"/><circle cx="930" cy="250.1" r="5.9"/><circle cx="918.6" cy="260" r="5.9"/><circle cx="906.6" cy="270" r="5.9"/><circle cx="895.3" cy="279.9" r="5.9"/><circle cx="884.4" cy="289.9" r="5.9"/><circle cx="871.3" cy="299.9" r="5.9"/><circle cx="857.8" cy="309.8" r="5.9"/><circle cx="849.1" cy="319.8" r="5.9"/><circle cx="841" cy="329.7" r="5.9"/><circle cx="828.9" cy="339.7" r="5.9"/><circle cx="820.8" cy="349.6" r="5.9"/><circle cx="816.7" cy="359.6" r="5.9"/><circle cx="813.5" cy="369.5" r="5.9"/><circle cx="806.6" cy="379.5" r="5.9"/><circle cx="798.5" cy="389.5" r="5.9"/><circle cx="789.6" cy="399.4" r="5.9"/><circle cx="785.6" cy="409.4" r="5.9"/><circle cx="777.5" cy="419.3" r="5.9"/><circle cx="768.2" cy="429.3" r="5.9"/><circle cx="762.7" cy="439.2" r="5.9"/><circle cx="756.2" cy="449.2" r="5.9"/><circle cx="751.6" cy="459.2" r="5.9"/><circle cx="745.1" cy="469.1" r="5.9"/><circle cx="742.7" cy="479.1" r="5.9"/><circle cx="736.7" cy="489" r="5.9"/><circle cx="733.4" cy="499" r="5.9"/><circle cx="730.6" cy="508.9" r="5.9"/><circle cx="725.7" cy="518.9" r="5.9"/><circle cx="721.7" cy="528.8" r="5.9"/><circle cx="718.5" cy="538.8" r="5.9"/><circle cx="717" cy="548.8" r="5.9"/><circle cx="714.7" cy="558.7" r="5.9"/><circle cx="712.3" cy="568.7" r="5.9"/><circle cx="709.8" cy="578.6" r="5.9"/><circle cx="707.9" cy="588.6" r="5.9"/><circle cx="703.9" cy="598.5" r="5.9"/><circle cx="701.1" cy="608.5" r="5.9"/><circle cx="702.3" cy="618.5" r="5.9"/><circle cx="700.7" cy="628.4" r="5.9"/><circle cx="697.8" cy="638.4" r="5.9"/><circle cx="695.8" cy="648.3" r="5.9"/><circle cx="694.2" cy="658.3" r="5.9"/><circle cx="691.8" cy="668.2" r="5.9"/><circle cx="690.1" cy="678.2" r="5.9"/><circle cx="693.4" cy="688.2" r="5.9"/><circle cx="691" cy="698.1" r="5.9"/><circle cx="688.1" cy="708.1" r="5.9"/><circle cx="689.3" cy="718" r="5.9"/><circle cx="684.5" cy="728" r="5.9"/><circle cx="685.3" cy="737.9" r="5.9"/><circle cx="685.6" cy="747.9" r="5.9"/><circle cx="684.5" cy="757.8" r="5.9"/><circle cx="683.7" cy="767.8" r="5.9"/><circle cx="682.1" cy="777.8" r="5.9"/><circle cx="680" cy="787.7" r="5.9"/><circle cx="682.3" cy="797.7" r="5.9"/><circle cx="680.4" cy="807.6" r="5.9"/></g>
<polyline points="709.6,19.4 709.6,22.7 709.6,26.6 709.6,30.6 709.6,34.6 709.6,38.6 709.8,42.6 714.4,48.5 722.5,58.5 754.8,68.5 783.2,78.4 801.2,88.4 827.5,98.3 831.5,108.3 832.2,118.2 833.6,138.2 845.8,158.1 875.5,178 888.8,197.9 891.8,217.8 941.3,267.6 851.1,317.4 723.7,416.9 701.5,516.5 678.8,616.1 655,715.6 650,815.2" fill="none" stroke="#ff0000" stroke-width="6.9" stroke-linejoin="round" stroke-linecap="butt"/>
<g fill="#ff0000"><circle cx="709.6" cy="19.4" r="5.9"/><circle cx="709.6" cy="22.7" r="5.9"/><circle cx="709.6" cy="26.6" r="5.9"/><circle cx="709.6" cy="30.6" r="5.9"/><circle cx="709.6" cy="34.6" r="5.9"/><circle cx="709.6" cy="38.6" r="5.9"/><circle cx="709.8" cy="42.6" r="5.9"/><circle cx="714.4" cy="48.5" r="5.9"/><circle cx="722.5" cy="58.5" r="5.9"/><circle cx="754.8" cy="68.5" r="5.9"/><circle cx="783.2" cy="78.4" r="5.9"/><circle cx="801.2" cy="88.4" r="5.9"/><circle cx="827.5" cy="98.3" r="5.9"/><circle cx="831.5" cy="108.3" r="5.9"/><circle cx="832.2" cy="118.2" r="5.9"/><circle cx="833.6" cy="138.2" r="5.9"/><circle cx="845.8" cy="158.1" r="5.9"/><circle cx="875.5" cy="178" r="5.9"/><circle cx="888.8" cy="197.9" r="5.9"/><circle cx="891.8" cy="217.8" r="5.9"/><circle cx="941.3" cy="267.6" r="5.9"/><circle cx="851.1" cy="317.4" r="5.9"/><circle cx="723.7" cy="416.9" r="5.9"/><circle cx="701.5" cy="516.5" r="5.9"/><circle cx="678.8" cy="616.1" r="5.9"/><circle cx="655" cy="715.6" r="5.9"/><circle cx="650" cy="815.2" r="5.9"/></g>
<polyline points="695.8,19.4 695.8,22.7 696.1,26.6 696.3,30.6 696.8,34.6 697.4,38.6 698.1,42.6 702.8,48.5 730.6,58.5 768.6,68.5 795.7,78.4 808,88.4 816.7,98.3 823.1,108.3 829.5,118.2 844.8,138.2 864.2,158.1 886.8,178 908.4,197.9 916.5,217.8 902.7,267.6 814.7,317.4 689.3,416.9 666.7,516.5 664.3,616.1 662.6,715.6 659.4,815.2" fill="none" stroke="#008000" stroke-width="2.8" stroke-linejoin="round" stroke-linecap="butt"/>
<g fill="#008000"><circle cx="695.8" cy="19.4" r="5.9"/><circle cx="695.8" cy="22.7" r="5.9"/><circle cx="696.1" cy="26.6" r="5.9"/><circle cx="696.3" cy="30.6" r="5.9"/><circle cx="696.8" cy="34.6" r="5.9"/><circle cx="697.4" cy="38.6" r="5.9"/><circle cx="698.1" cy="42.6" r="5.9"/><circle cx="702.8" cy="48.5" r="5.9"/><circle cx="730.6" cy="58.5" r="5.9"/><circle cx="768.6" cy="68.5" r="5.9"/><circle cx="795.7" cy="78.4" r="5.9"/><circle cx="808" cy="88.4" r="5.9"/><circle cx="816.7" cy="98.3" r="5.9"/><circle cx="823.1" cy="108.3" r="5.9"/><circle cx="829.5" cy="118.2" r="5.9"/><circle cx="844.8" cy="138.2" r="5.9"/><circle cx="864.2" cy="158.1" r="5.9"/><circle cx="886.8" cy="178" r="5.9"/><circle cx="908.4" cy="197.9" r="5.9"/><circle cx="916.5" cy="217.8" r="5.9"/><circle cx="902.7" cy="267.6" r="5.9"/><circle cx="814.7" cy="317.4" r="5.9"/><circle cx="689.3" cy="416.9" r="5.9"/><circle cx="666.7" cy="516.5" r="5.9"/><circle cx="664.3" cy="616.1" r="5.9"/><circle cx="662.6" cy="715.6" r="5.9"/><circle cx="659.4" cy="815.2" r="5.9"/></g>
<polyline points="616,19.7 616,21.7 616,24 616.1,26.3 616.3,28.8 616.5,31.5 617.9,34.5 620.6,37.7 633.5,41.4 665.5,45.5 725.7,50.2 756.5,55.5 781.5,61.7 810.7,68.9 829.9,77.2 834.8,87.2 833.7,98.9 837.1,113.1 841.3,129.8 845.7,149.7 862.8,173.8 881.6,202.5 890.3,237.1 870.2,278.9 832,329.1 758.5,389.3 736.7,461.7 709.6,548.4 691,652.1 680.7,775.8 649.6,922.5" fill="none" stroke="#ff00ff" stroke-width="2.8" stroke-linejoin="round" stroke-linecap="butt"/>
<g fill="#ff00ff"><circle cx="616" cy="19.7" r="5.9"/><circle cx="616" cy="21.7" r="5.9"/><circle cx="616" cy="24" r="5.9"/><circle cx="616.1" cy="26.3" r="5.9"/><circle cx="616.3" cy="28.8" r="5.9"/><circle cx="616.5" cy="31.5" r="5.9"/><circle cx="617.9" cy="34.5" r="5.9"/><circle cx="620.6" cy="37.7" r="5.9"/><circle cx="633.5" cy="41.4" r="5.9"/><circle cx="665.5" cy="45.5" r="5.9"/><circle cx="725.7" cy="50.2" r="5.9"/><circle cx="756.5" cy="55.5" r="5.9"/><circle cx="781.5" cy="61.7" r="5.9"/><circle cx="810.7" cy="68.9" r="5.9"/><circle cx="829.9" cy="77.2" r="5.9"/><circle cx="834.8" cy="87.2" r="5.9"/><circle cx="833.7" cy="98.9" r="5.9"/><circle cx="837.1" cy="113.1" r="5.9"/><circle cx="841.3" cy="129.8" r="5.9"/><circle cx="845.7" cy="149.7" r="5.9"/><circle cx="862.8" cy="173.8" r="5.9"/><circle cx="881.6" cy="202.5" r="5.9"/><circle cx="890.3" cy="237.1" r="5.9"/><circle cx="870.2" cy="278.9" r="5.9"/><circle cx="832" cy="329.1" r="5.9"/><circle cx="758.5" cy="389.3" r="5.9"/><circle cx="736.7" cy="461.7" r="5.9"/><circle cx="709.6" cy="548.4" r="5.9"/><circle cx="691" cy="652.1" r="5.9"/><circle cx="680.7" cy="775.8" r="5.9"/></g>
</g>
<rect x="581.3" y="19.4" width="398.1" height="794.8000000000001" fill="none" stroke="#000" stroke-width="1.25"/>
<g stroke="#000" stroke-width="1.3">
<path d="M612.5 814.2v5.6"/>
<path d="M679.9 814.2v5.6"/>
<path d="M747.3 814.2v5.6"/>
<path d="M814.7 814.2v5.6"/>
<path d="M882.1 814.2v5.6"/>
<path d="M949.5 814.2v5.6"/>
<path d="M581.3 19.4h-5.6"/>
<path d="M581.3 68.5h-5.6"/>
<path d="M581.3 118.2h-5.6"/>
<path d="M581.3 168h-5.6"/>
<path d="M581.3 217.8h-5.6"/>
<path d="M581.3 267.6h-5.6"/>
<path d="M581.3 317.4h-5.6"/>
<path d="M581.3 367.2h-5.6"/>
<path d="M581.3 416.9h-5.6"/>
<path d="M581.3 466.7h-5.6"/>
<path d="M581.3 516.5h-5.6"/>
<path d="M581.3 566.3h-5.6"/>
<path d="M581.3 616.1h-5.6"/>
<path d="M581.3 665.8h-5.6"/>
<path d="M581.3 715.6h-5.6"/>
<path d="M581.3 765.4h-5.6"/>
</g>
<g font-size="16.67" fill="#000">
<text x="612.5" y="841.7" text-anchor="middle">34.5</text>
<text x="679.9" y="841.7" text-anchor="middle">35.0</text>
<text x="747.3" y="841.7" text-anchor="middle">35.5</text>
<text x="814.7" y="841.7" text-anchor="middle">36.0</text>
<text x="882.1" y="841.7" text-anchor="middle">36.5</text>
<text x="949.5" y="841.7" text-anchor="middle">37.0</text>
</g>
<g stroke="#b0b0b0" stroke-width="0.8" stroke-dasharray="3.6 1.55" fill="none">
<path d="M1108.6 814.2V19.4"/>
<path d="M1177.6 814.2V19.4"/>
<path d="M1246.6 814.2V19.4"/>
<path d="M1315.6 814.2V19.4"/>
<path d="M1384.6 814.2V19.4"/>
<path d="M1453.6 814.2V19.4"/>
<path d="M1075.6 68.5H1473.7"/>
<path d="M1075.6 118.2H1473.7"/>
<path d="M1075.6 168H1473.7"/>
<path d="M1075.6 217.8H1473.7"/>
<path d="M1075.6 267.6H1473.7"/>
<path d="M1075.6 317.4H1473.7"/>
<path d="M1075.6 367.2H1473.7"/>
<path d="M1075.6 416.9H1473.7"/>
<path d="M1075.6 466.7H1473.7"/>
<path d="M1075.6 516.5H1473.7"/>
<path d="M1075.6 566.3H1473.7"/>
<path d="M1075.6 616.1H1473.7"/>
<path d="M1075.6 665.8H1473.7"/>
<path d="M1075.6 715.6H1473.7"/>
<path d="M1075.6 765.4H1473.7"/>
</g>
<g clip-path="url(#ca3)">
<path fill="none" stroke="#00ffff" stroke-width="6.7" stroke-linecap="round" d="M1119.9 26.2h0M1122.2 36.9h0M1127 44.7h0M1134.7 55.6h0M1138.2 66.7h0M1140.5 74.4h0M1144 84.7h0M1149.7 93.8h0M1152.2 104.7h0M1156.3 114.8h0M1160.8 124.4h0M1167.3 134h0M1175.1 143.2h0M1187.3 153.4h0M1194.6 163.7h0M1200.2 175.2h0M1205.2 184h0M1209.9 193.7h0M1218 205.1h0M1225.1 214.9h0M1232.3 223.6h0M1239.3 233.7h0M1247 244.9h0M1250.3 254.6h0M1253.6 263.4h0M1257.1 274.4h0M1260.6 284.1h0M1265.3 295.1h0M1269.2 303.2h0M1274.7 314.8h0M1277.3 324.3h0M1280.7 332.9h0M1282 344.8h0M1284 354.7h0M1285.2 362.5h0M1288.6 375.6h0M1289.4 382.6h0M1291.7 392.7h0M1294.3 403.3h0M1297.4 414.3h0M1298.9 424h0M1300.1 433.4h0M1301.3 444.7h0M1302.9 453.7h0M1304.3 464.6h0M1305.7 475.9h0M1306.5 483.4h0M1307.3 490.7h0M1308.8 502.7h0M1310.4 512.1h0M1311.8 523.1h0M1312.6 533.1h0M1314.1 541.8h0M1315.2 551.8h0M1316.7 562.6h0M1317.7 572.6h0M1318.8 580.3h0M1320.4 593.7h0M1321.5 602.7h0M1322.3 612.6h0M1323.8 622.9h0M1324.6 631.6h0M1325.5 642.5h0M1326.9 653.5h0M1327.6 663.5h0M1329 672.8h0M1330.1 682.1h0M1330.8 691.5h0M1332.3 703.5h0M1333.2 712.7h0M1334.1 721.8h0M1334.7 730h0M1336.2 741.3h0M1337.1 750.2h0M1338.7 763.2h0M1339.5 772.1h0M1340.5 781.2h0M1341.4 791.6h0M1342.8 804.3h0M1343.2 813h0M1122 25.8h0M1124.5 35h0M1130.6 45.2h0M1136.8 54.1h0M1143.2 65.4h0M1144.6 75.8h0M1146.9 84.4h0M1151.9 95.3h0M1154.8 104.9h0M1158.5 113.3h0M1162.7 124.7h0M1171.1 135.6h0M1182.5 143.8h0M1189.6 152.5h0M1197.5 164.4h0M1201.6 173.5h0M1208.1 186h0M1211.2 194h0M1218.5 204h0M1224.8 213.3h0M1232.8 224.2h0M1239 233.3h0M1244.6 242.9h0M1249 253.7h0M1250.8 263h0M1256.5 275h0M1257.2 282.5h0M1262 293.5h0M1267.5 302.9h0M1270.2 312.2h0M1275.4 325.1h0M1276.5 331.4h0M1279.4 344.8h0M1280.4 352h0M1282.4 363.4h0M1286.1 375.5h0M1286.8 381.1h0M1288.9 391.8h0M1292.6 404.4h0M1295.7 413.3h0M1297.1 422.5h0M1299 433h0M1300.3 442h0M1302.2 453h0M1303.3 464.3h0M1304.8 472.5h0M1305.9 482.9h0M1307.7 493.9h0M1309.4 504.6h0M1310.5 512.1h0M1312 522.9h0M1313.2 532h0M1314.4 541.9h0M1315.8 552.1h0M1317.2 561.8h0M1318.3 570.7h0M1319.6 580.4h0M1321 591.6h0M1322.4 602.4h0M1323.3 613.4h0M1324.5 621.7h0M1325.6 632h0M1326.7 642.7h0M1327.9 652.8h0M1328.8 661.9h0M1329.7 671.9h0M1331 683.7h0M1331.9 691.5h0M1332.7 701.4h0M1333.6 710.2h0M1335 722.2h0M1335.9 731.4h0M1337.4 743.5h0M1338.1 751.3h0M1339.3 762.4h0M1340.3 772.4h0M1341.3 783.1h0M1342.2 790.2h0M1343.2 802.9h0M1344.1 811.4h0M1119.3 23.9h0M1121.3 33.5h0M1126.6 44.7h0M1132 53.6h0M1137.6 64.6h0M1140.4 75.7h0M1141.5 84.2h0M1146.1 94.4h0M1148.1 103.9h0M1152.7 113.6h0M1156.3 123.6h0M1161.7 133.4h0M1172.8 144.3h0M1181.1 151.7h0M1189.3 162.9h0M1194.2 173.8h0M1198.2 182.3h0M1204.1 193h0M1210.1 202.4h0M1217.8 213.4h0M1225.3 223.8h0M1233.1 234.3h0M1238.8 243.3h0M1243.1 252.1h0M1246.8 263h0M1250.1 273.3h0M1253.9 284h0M1256.3 290.6h0M1262.4 302.9h0M1266.1 310.8h0M1271.1 323.2h0M1274.1 332.9h0M1276.3 342.9h0M1278.6 353.2h0M1280.8 362.7h0M1283.2 371.7h0M1285.9 382.6h0M1288.3 393.3h0M1290.6 402h0M1294.1 412.1h0M1295.9 420.9h0M1297.6 433.1h0M1298.7 441.5h0M1300 451.2h0M1301.4 461.5h0M1302.7 471h0M1304.1 481.6h0M1305.6 493h0M1306.9 502.5h0M1308.3 513h0M1309.6 523h0M1310.5 530.7h0M1311.9 542h0M1313.2 552.9h0M1314.9 563.6h0M1315.8 570.1h0M1316.9 580h0M1318.4 591.8h0M1319 601h0M1320.4 610.3h0M1321.8 621.5h0M1322.8 630.4h0M1323.5 638.9h0M1324.8 651h0M1325.9 661.1h0M1327.3 671.6h0M1328.2 681.8h0M1329.1 691.1h0M1330.1 700.6h0M1331.2 710.2h0M1332.2 719.2h0M1333.5 730.3h0M1334.7 741.6h0M1336.1 751.2h0M1337.4 762.5h0M1338.4 770.4h0M1339.4 778.8h0M1340.9 791.2h0M1342.3 801.4h0M1342.8 809.2h0M1120.1 22.8h0M1122.2 34.5h0M1128 44.7h0M1134.3 54.4h0M1138.1 64.4h0M1141.6 73.8h0M1143.3 82.1h0M1147.3 92.8h0M1151.1 101.7h0M1156.4 113.1h0M1160.2 122.1h0M1166.2 133.4h0M1175.9 143.1h0M1185.4 151.4h0M1194.8 163.9h0M1198.5 173.9h0M1202 181.8h0M1208.2 193.2h0M1215.8 203.7h0M1223.2 212.7h0M1228.9 223.8h0M1234.6 233.1h0M1243.2 243.9h0M1246.7 253h0M1249.4 262.6h0M1252.9 273.2h0M1255 283.4h0M1257.4 292.9h0M1262 302.2h0M1266.7 311.8h0M1270.8 322.1h0M1274.7 331.9h0M1276.6 342.6h0M1279.5 352.5h0M1281.3 362.2h0M1284.7 372.3h0M1287.4 382.4h0M1290.5 393.7h0M1293.6 403.3h0M1296.2 411.6h0M1298.3 422.5h0M1300.3 431.7h0M1301.4 441.9h0M1302.9 451.7h0M1304.3 461.3h0M1305.7 470.5h0M1306.8 479.4h0M1308.3 492h0M1309.7 502.8h0M1310.3 510.8h0M1311.7 522.1h0M1312.8 531.2h0M1314 541.8h0M1315 550.7h0M1316.2 561.2h0M1317.3 571.3h0M1318 579.1h0M1319.2 591.5h0M1320.6 601.1h0M1321.5 608.9h0M1322.6 621.8h0M1323.9 631.1h0M1324.9 641.3h0M1326 651.4h0M1326.7 660.6h0M1327.8 669.9h0M1328.9 680.5h0M1330.3 690.5h0M1331.1 703h0M1332.1 712.6h0M1332.7 720.3h0M1333.9 730.3h0M1335.2 741h0M1336 751.2h0M1337 759.9h0M1338.7 769.6h0M1340.2 782.3h0M1341.2 791.5h0M1342.3 798.9h0M1343.3 808.7h0M1119.2 26.3h0M1121.9 37.6h0M1127.6 45.7h0M1135.5 56.1h0M1139.2 67.3h0M1142.6 76h0M1145.5 85h0M1148.2 95.5h0M1152.3 104.8h0M1155.7 116.7h0M1159.3 124.3h0M1166.9 137h0M1174.4 144.3h0M1184.9 156h0M1191.6 164.4h0M1196.3 175.5h0M1202.2 186.8h0M1208.6 196.9h0M1213.9 207h0M1219.6 215.6h0M1227 225.7h0M1234.5 235.8h0M1240.3 246.1h0M1244.1 255.1h0M1247.9 266.5h0M1251 275.7h0M1254.8 286.5h0M1258.9 295.8h0M1263.8 305.9h0M1267.7 314.5h0M1271.7 324.8h0M1274.3 333.9h0M1276.7 344.8h0M1279 354.9h0M1281.7 365.8h0M1284 373.7h0M1287.6 388.1h0M1289.7 394.8h0M1293.1 406.1h0M1295.6 415.8h0M1296.4 422.2h0M1298 434.4h0M1299.3 446.1h0M1300.9 452.2h0M1302 465.3h0M1303.3 473.6h0M1304.9 484h0M1305.8 494.7h0M1307 502.5h0M1308.8 514.6h0M1309.9 523.7h0M1311.2 533.5h0M1312.8 544.9h0M1314.7 557.7h0M1315.4 564.5h0M1316.5 574.6h0M1317.7 584h0M1318.5 593.3h0M1320.2 604.2h0M1321.5 615.4h0M1322.1 624.1h0M1323.5 634.7h0M1324.4 643.6h0M1325.7 656.3h0M1326.3 662.1h0M1327.8 674.2h0M1328.9 684.2h0M1330.3 693.8h0M1331.2 702.4h0M1332.4 712.4h0M1333.5 723.2h0M1334.6 733.5h0M1336 742.1h0M1336.5 752.2h0M1338.1 763.8h0M1339.1 774.2h0M1339.9 782.6h0M1340.9 792.4h0M1342 802.4h0M1342.5 815.5h0M1121.6 27.7h0M1124.7 36.2h0M1133.9 48.6h0M1138.9 58.8h0M1142.3 64.2h0M1145.8 76.1h0M1148.4 87.9h0M1152 97.8h0M1155.9 107.6h0M1158.3 117.9h0M1164.1 128.2h0M1172 138.2h0M1183.8 149.1h0M1190.8 157.3h0M1197 168.1h0M1201.4 175.6h0M1206.6 187h0M1210.7 195.9h0M1219.8 208.5h0M1226.5 219.3h0M1232.1 227.5h0M1238.4 235.6h0M1244.2 246.8h0M1248.1 256.9h0M1253.4 267h0M1255.4 277.8h0M1260.7 287.7h0M1262.2 294h0M1270.1 308h0M1273.7 316.1h0M1277.1 326h0M1278.8 337.9h0M1281.8 346.2h0M1283.5 355.1h0M1285.2 365.1h0M1287.9 376.4h0M1290.5 387.2h0M1291.7 397.7h0M1294.6 406h0M1296.6 415.7h0M1298.8 427.7h0M1299.8 435.6h0M1301.9 447.5h0M1302.7 456.2h0M1303.9 466.2h0M1305.4 475.7h0M1306.5 486.1h0M1308 495.3h0M1309 505.1h0M1310.4 515.6h0M1311.8 525h0M1312.9 535.9h0M1314.3 545.7h0M1314.8 555.3h0M1316.3 565.3h0M1317.3 575.2h0M1318.6 587.1h0M1319.2 595.4h0M1320.9 604.7h0M1321.9 615h0M1322.9 625.9h0M1323.9 635h0M1325.2 645h0M1326.7 654.9h0M1327.6 665.2h0M1328.7 675.4h0M1330 685.4h0M1330.8 693.3h0M1332 703.8h0M1333 712.2h0M1334.5 725.6h0M1335.7 735.9h0M1336.5 746h0M1337.7 754.8h0M1338.9 765.8h0M1339.9 774.6h0M1341 784.4h0M1341.9 793h0M1343.2 803.7h0M1343.7 813.8h0M1122.5 23.4h0M1125.3 35.2h0M1133.3 45.5h0M1140.1 54.3h0M1144.9 64.6h0M1148.3 73.6h0M1150.8 84.2h0M1155.8 95.4h0M1157.7 105.1h0M1161.2 114.4h0M1167.8 124h0M1172 132.6h0M1183.1 144.4h0M1195.6 154.5h0M1201.2 165.1h0M1204 176h0M1210.2 184.3h0M1216.7 194.9h0M1221.4 202.8h0M1230.7 215h0M1237.3 224.6h0M1245.1 235.1h0M1250.7 244.4h0M1254.9 254.1h0M1258.5 265.1h0M1260.9 272.9h0M1264.7 284.2h0M1268.8 294.5h0M1272.7 302.7h0M1277.1 312.3h0M1281.2 323.8h0M1283.5 333.4h0M1285.1 343.9h0M1286.8 353.9h0M1288.2 362.4h0M1290.5 373.5h0M1292.4 384.2h0M1293.9 392.7h0M1295.9 402.7h0M1298.5 411.9h0M1300.4 423.7h0M1301.9 434.8h0M1302.7 441.5h0M1304.3 453.5h0M1305.6 463.6h0M1306.6 472.2h0M1308 482.3h0M1309.2 491.6h0M1310.3 501.8h0M1311.8 512.7h0M1313.1 523.1h0M1313.9 532.6h0M1315.6 543.2h0M1316.3 552.6h0M1317.1 561.2h0M1319.1 573.7h0M1320.2 583.4h0M1321.2 591.5h0M1322.6 603.9h0M1323.4 612.6h0M1324.7 622.2h0M1325.9 633.9h0M1326.5 639.6h0M1327.6 650.4h0M1328.8 662.6h0M1329.9 671.6h0M1330.9 680.9h0M1331.9 693.2h0M1332.8 702.2h0M1333.7 710.4h0M1334.9 721h0M1336.2 732.4h0M1337.2 743.3h0M1337.8 749.6h0M1339.1 761.7h0M1340.2 771.1h0M1341.2 779.7h0M1342.5 791.2h0M1343.4 799.7h0M1344.2 810.7h0M1119.1 20.2h0M1119.4 28.9h0M1122.6 41h0M1129.3 49.3h0M1133 59.6h0M1136.1 68.5h0M1139.1 78.9h0M1142.7 89.3h0M1147.1 99.1h0M1149.1 108.5h0M1152.6 117.9h0M1158.7 129h0M1167.5 139.1h0M1178.9 149.4h0M1188.5 160.1h0M1192.6 168.5h0M1198 176.8h0M1204.9 188.6h0M1207.8 196.9h0M1214.9 207.4h0M1223.3 219.6h0M1230.4 229.1h0M1236.2 237.9h0M1242.2 247.8h0M1246.9 258.3h0M1248 266.6h0M1252.1 278.8h0M1255.4 287.9h0M1263 300.1h0M1266.8 307.2h0M1270.4 319.2h0M1273.2 327.4h0M1276.7 339.1h0M1279 347.1h0M1281.4 358.7h0M1283.5 367.5h0M1286.1 377.1h0M1288.5 387.7h0M1290.3 398.3h0M1294.4 408.2h0M1296.5 419.3h0M1297.4 428.5h0M1298.3 435h0M1299.6 447.2h0M1300.9 455.6h0M1302.5 467.1h0M1303.6 478.1h0M1304.8 486.1h0M1306.3 496.2h0M1307.6 507.5h0M1308.8 517h0M1310.3 528.8h0M1311.3 537.5h0M1312.5 547.7h0M1313.9 558.9h0M1314.8 566.6h0M1316.1 577h0M1317.2 586h0M1318.5 597.2h0M1319.8 607.9h0M1321 618.2h0M1322 626.8h0M1323 636.1h0M1324.3 646h0M1325.1 655.3h0M1326.8 666.8h0M1327.9 677.9h0M1328.3 684.2h0M1329.5 694.3h0M1331.3 707.9h0M1331.9 714.8h0M1333.1 726.7h0M1334.1 735.1h0M1335.6 747.1h0M1336.6 757h0M1337.9 766.4h0M1339.1 777h0M1340.2 786.2h0M1341.5 796.6h0M1342.5 807.8h0M1119.7 26.5h0M1122.7 37.1h0M1128.5 47.2h0M1134.5 57.5h0M1137.6 66.9h0M1142.2 76.9h0M1143.9 86h0M1149 96.7h0M1152.8 105.2h0M1154.1 115.8h0M1160.5 126.7h0M1168.4 135.9h0M1180.8 146.3h0M1187.8 154.8h0M1195.8 167.2h0M1198.7 175.2h0M1204.9 186.1h0M1209.2 195.6h0M1217.8 206.5h0M1221.1 215.2h0M1228.7 224.5h0M1237.8 233.6h0M1243.9 245.1h0M1247.3 254.2h0M1253.2 265.9h0M1255.9 276.7h0M1258.1 283h0M1261.3 293.9h0M1267.8 305.5h0M1272.5 316.4h0M1274.4 325.4h0M1278.2 335.4h0M1280 345.5h0M1282.6 355.5h0M1285 366.6h0M1286.2 375.5h0M1287.9 383.6h0M1290.2 394.3h0M1293.2 405h0M1295.5 413.9h0M1297.5 424.4h0M1299.2 434.1h0M1300.6 443.9h0M1302.4 455.2h0M1303.6 464.1h0M1304.6 473.3h0M1305.7 483.7h0M1307.7 494.4h0M1309.1 506.4h0M1310.1 514.5h0M1311.5 525.7h0M1312.2 534.7h0M1313.3 542h0M1314.3 554.5h0M1315.8 563.2h0M1316.8 572.6h0M1318.5 582.9h0M1319.6 595.7h0M1320.1 602.3h0M1321.3 613.2h0M1322.6 624.9h0M1323.3 634.4h0M1324.3 642h0M1325.6 653.5h0M1327.1 663.1h0M1327.7 673.4h0M1328.5 684.3h0M1329.9 692.9h0M1331.5 703.1h0M1332.3 714.9h0M1334 721.5h0M1334.8 732.9h0M1336.3 743.7h0M1336.9 752h0M1338.1 762.5h0M1338.9 771.8h0M1340.2 783.2h0M1341 792.4h0M1342.7 803.8h0M1342.8 814h0M1119.8 23.6h0M1120.6 32.6h0M1125.6 43.3h0M1132 53.1h0M1135.2 62.6h0M1137.7 73.1h0M1141.8 83.1h0M1145.1 91.9h0M1147.8 101.6h0M1151 112h0M1156.2 123h0M1164.2 134.2h0M1173.6 144.3h0M1183.5 153h0M1190.4 163.6h0M1195.3 172.8h0M1199.8 183.7h0M1203.9 192.7h0M1210.7 202.9h0M1219.1 212.2h0M1224.6 222.4h0M1234.6 234.3h0M1238.8 241.1h0M1245.5 252.3h0M1247.7 261.6h0M1251 273.2h0M1254 284h0M1257.3 291.8h0M1261.6 299.2h0M1267.9 312.7h0M1271.1 322.6h0M1275.6 330.2h0M1277 341.6h0M1279 351.8h0M1281.2 359.4h0M1284.2 372.5h0M1286.5 382.2h0M1288.9 391.9h0M1291 400.5h0M1294.5 410.9h0M1296.4 420.9h0M1298.5 432h0M1299.5 440.4h0M1301.6 452.9h0M1302.7 461.8h0M1303.7 469.1h0M1305.5 483h0M1306.8 491.4h0M1307.5 500.6h0M1308.8 511.3h0M1310.1 519.2h0M1310.9 531.3h0M1312.4 538.5h0M1314.1 549.9h0M1315.5 562.3h0M1317.1 572.2h0M1318 580.5h0M1319 589.8h0M1320.2 601.7h0M1321.6 610.7h0M1322.4 620.9h0M1323.5 631.3h0M1324.5 639.5h0M1325.7 651.4h0M1326.6 658.3h0M1327.7 672h0M1328.1 678.8h0M1329.7 689.7h0M1330.9 699.6h0M1331.9 711h0M1333.3 721h0M1334.4 730.6h0M1335.2 740.7h0M1336.3 750.6h0M1337.3 760h0M1338.4 768h0M1339.5 777.6h0M1340.6 787.5h0M1341.8 799.8h0M1342.7 809.6h0M1122 20.9h0M1123.7 31.2h0M1128.6 40.9h0M1138 52.3h0M1142.7 62.8h0M1146 73h0M1148.4 82.3h0M1153.3 91.6h0M1155.2 102.2h0M1159.2 112.8h0M1163 121.8h0M1170 132.2h0M1180.1 141.7h0M1188.8 151.5h0M1197.5 162h0M1200.8 170.8h0M1206.3 183h0M1210.4 190.2h0M1216.9 202.3h0M1223.9 210.4h0M1232.8 223.3h0M1239 232.6h0M1246.3 240.8h0M1251.1 251.1h0M1254.8 260.4h0M1257 271.4h0M1261.6 281.9h0M1266.7 294h0M1270.6 300h0M1277.1 312.6h0M1279 320.7h0M1282.9 331.5h0M1284.5 342.1h0M1286.5 351.7h0M1287.9 361.5h0M1289.4 370.9h0M1291.8 381h0M1293.4 391.1h0M1295.6 402.2h0M1298 409.4h0M1299.8 420.3h0M1301.1 429.5h0M1302.1 439.8h0M1303.8 449.9h0M1305.4 461.8h0M1306.8 472.8h0M1307.9 482h0M1308.7 489.3h0M1310.4 500.6h0M1311.5 509.3h0M1313 520.9h0M1314.2 531.7h0M1315.2 540.9h0M1316.5 551.2h0M1317.5 560.1h0M1318.4 568.2h0M1319.6 578.1h0M1320.9 590h0M1321.8 600.6h0M1322.9 611.3h0M1324 619.6h0M1325.2 630h0M1326 640.1h0M1327.1 650.9h0M1328.3 659.7h0M1328.8 668.6h0M1330.8 680.8h0M1331.4 690.1h0M1332.6 700h0M1333.7 708.3h0M1334.4 719.5h0M1335.3 727.7h0M1336.9 737.4h0M1337.8 749.2h0M1338.8 758.9h0M1340.1 769.9h0M1341.4 780.7h0M1342.4 789.2h0M1343.5 801h0M1344.3 808.5h0M1121.1 23.4h0M1123.8 34.4h0M1130.4 43.2h0M1138.3 54.8h0M1141.1 62.1h0M1145 73.4h0M1147.9 84.6h0M1152.8 94.1h0M1157.2 103.1h0M1158.2 111.8h0M1163.4 122h0M1169.5 132.5h0M1182.4 142.9h0M1192.6 152.3h0M1200 161h0M1205.7 171.7h0M1210.8 182.9h0M1216.3 193.2h0M1221.1 200.9h0M1228.5 211.9h0M1234.3 220.5h0M1241.9 231.6h0M1251.4 245.8h0M1253.8 252.2h0M1256.9 261.7h0M1259.8 271.4h0M1263.6 280.7h0M1265.4 290h0M1272 301.8h0M1275.8 311.6h0M1280 323.3h0M1281.2 330.1h0M1284.8 342.2h0M1286.3 353h0M1287.6 359.6h0M1290.3 372.3h0M1291.7 379.9h0M1293.8 392h0M1296 403h0M1298.4 411.4h0M1300.2 421.7h0M1301.3 430.6h0M1302.8 441.6h0M1304 452.4h0M1305.3 461h0M1306.2 471h0M1307.3 481.5h0M1308.8 491.9h0M1309.9 499.4h0M1310.9 511h0M1311.9 520.2h0M1313.1 531.4h0M1314.4 541.9h0M1315.2 551.1h0M1316.5 562.1h0M1316.9 569.7h0M1318.6 580.3h0M1319.5 589.6h0M1320.6 600.6h0M1322.3 610.6h0M1323.3 620.3h0M1324.6 629.2h0M1325.4 640.3h0M1327 649.9h0M1327.8 660.9h0M1328.4 670h0M1330.1 681.4h0M1330.9 690.4h0M1331.6 698.3h0M1333 709.9h0M1333.8 718.6h0M1335.5 731h0M1336.6 741.4h0M1337.5 749.9h0M1338.9 760.3h0M1339.6 768.4h0M1340.5 777.5h0M1341.7 789.2h0M1342.9 799.5h0M1344 808.1h0M1120.2 23.2h0M1122.7 35.1h0M1127.9 44.2h0M1134.7 54.1h0M1140.1 66.2h0M1142.9 72.8h0M1146.6 84.2h0M1149.2 92.1h0M1152.6 103.6h0M1156.6 114.4h0M1162.3 125h0M1166.2 132.5h0M1179.7 144.6h0M1188.8 154.5h0M1196.2 163.5h0M1200.2 176.1h0M1204.2 183.5h0M1209.9 192.6h0M1216.9 203.9h0M1221.3 211.5h0M1231.9 225h0M1237.1 234.3h0M1242.3 242.9h0M1246.5 253.9h0M1251.2 263.7h0M1254.4 275.1h0M1256.7 282.5h0M1259.1 291.7h0M1264.9 300.9h0M1269.8 312.7h0M1273.6 321.3h0M1277.1 332.7h0M1278.2 343.3h0M1280.7 352.3h0M1283.2 361.8h0M1286.1 373.9h0M1288 382.5h0M1290.1 392.9h0M1293 403.6h0M1295.4 411.2h0M1298.1 421.5h0M1299.9 435h0M1300.6 442.2h0M1302.3 451.3h0M1303.4 462.1h0M1304.3 471.7h0M1306.4 481h0M1307.7 491.8h0M1308.4 502.1h0M1309.9 512.1h0M1311.4 522.6h0M1312.2 530.2h0M1313.3 540.4h0M1314.8 552.7h0M1316 561.4h0M1317.4 573.1h0M1318.7 582.1h0M1319.6 590.3h0M1321 602.3h0M1322.1 610.6h0M1323.1 621.9h0M1324.8 632.8h0M1325.4 643.7h0M1326.5 651.4h0M1327.7 662.2h0M1328.8 671.7h0M1330 682.2h0M1330.9 688.7h0M1331.9 700.9h0M1333.3 711.5h0M1334.5 721.7h0M1335.4 730.4h0M1336.7 741.9h0M1338.1 752.2h0M1338.7 761.1h0M1339.6 770.7h0M1340.6 780.6h0M1341.6 791h0M1342.8 802h0M1343.3 812.3h0M1121.1 26.6h0M1124 36.9h0M1131.8 47.7h0M1136.3 55.5h0M1140.7 67.9h0M1142.1 75.8h0M1145.9 86.9h0M1149.5 96.3h0M1152.1 105.8h0M1154.9 114.1h0M1162.8 127.6h0M1167.9 135.2h0M1180 145.2h0M1191 157h0M1196.6 165.9h0M1200.8 177.7h0M1206.3 187.4h0M1211 196.4h0M1216.6 205.9h0M1225 216.4h0M1230.6 224.3h0M1239.6 235.7h0M1245.4 245.7h0M1248.6 255h0M1252.5 265.7h0M1254.2 273.9h0M1259.3 286.2h0M1265.3 296.6h0M1269.3 304h0M1274.4 315.3h0M1278.3 326.7h0M1280.7 335.5h0M1282.5 344h0M1283.8 354h0M1286.8 365.8h0M1290 376.8h0M1291.4 383.8h0M1293.1 394.9h0M1295.2 404h0M1297.9 414.5h0M1299.5 425h0M1300.7 434.6h0M1301.8 444h0M1303.9 456.7h0M1304.9 464.4h0M1306.3 474.3h0M1308.2 485.6h0M1309.2 494.4h0M1310.2 504.2h0M1311.9 515.3h0M1312.4 523.3h0M1314.2 535h0M1315.2 545.2h0M1316.2 554.8h0M1317.3 563.9h0M1318.7 574.1h0M1319.3 582.3h0M1320.6 593.9h0M1322.3 604.2h0M1323.2 614.7h0M1324.4 624h0M1325 633.4h0M1326.2 642.9h0M1327.1 653.7h0M1328.3 663.8h0M1329.3 674.8h0M1330.1 683.6h0M1331.4 693h0M1332.3 703.4h0M1333 713h0M1334.3 723.2h0M1335 731.2h0M1336 741.8h0M1337.1 752.1h0M1338.3 763.7h0M1339.4 773.1h0M1340.4 783.3h0M1341.5 794.3h0M1342.6 802h0M1343.5 814.1h0M1120.4 26h0M1122.8 35.8h0M1129.4 44.9h0M1136.2 55.6h0M1139.1 64.5h0M1142.5 74.8h0M1144.4 84.1h0M1147.8 95.5h0M1151.6 106.4h0M1154.9 114.3h0M1159.3 126.1h0M1163 132.8h0M1175.1 144h0M1187.1 153.8h0M1193 166.5h0M1197.7 174.1h0M1201.8 185.5h0M1205.9 192.6h0M1213 204.7h0M1219.4 215.1h0M1227 224.5h0M1234 231.8h0M1240.6 244.6h0M1245.4 255.2h0M1248 265.6h0M1251 274.7h0M1254 282.6h0M1258.5 294h0M1264.9 305.1h0M1267.4 313.3h0M1271.7 324.6h0M1274.2 333.6h0M1276.6 344.1h0M1278.9 354.7h0M1281 363.2h0M1284.5 376.7h0M1286.2 384h0M1288.5 394.1h0M1291 403h0M1294.4 413.7h0M1296.2 423.4h0M1297.5 432.2h0M1299.3 442h0M1300.5 453.8h0M1302 463.4h0M1303.2 470.8h0M1304.5 481.2h0M1305.9 493h0M1307 503.2h0M1308.5 513.9h0M1309.8 522h0M1311.4 533.8h0M1313 542.8h0M1314.6 552.6h0M1315.9 562.9h0M1317.1 574h0M1318.6 583.5h0M1319.5 593.8h0M1320.5 602.2h0M1322.4 612.5h0M1322.9 621.6h0M1324.3 632.2h0M1325.5 642.3h0M1326.8 652.2h0M1327.7 663.3h0M1329 673h0M1329.9 683.3h0M1330.8 692.6h0M1332.2 703.5h0M1333.1 712.5h0M1334 723.3h0M1335 732.8h0M1336 743h0M1337.2 752.1h0M1338.1 760.9h0M1339.1 770.7h0M1340.6 784h0M1341.4 792.4h0M1342.7 802.4h0M1343.1 811.8h0M1119 22.2h0M1120 33h0M1124.2 42.9h0M1131.7 53.8h0M1136.1 61h0M1139.5 72.4h0M1143.2 83h0M1146 91.6h0M1149 102.8h0M1152.8 112.1h0M1156.6 121.3h0M1164.1 133.5h0M1170.2 141h0M1183.7 153.3h0M1189.4 161.9h0M1193.9 171.3h0M1198.6 181.3h0M1204.9 191.4h0M1211.3 201.3h0M1218.7 212.3h0M1224.6 220.2h0M1233.9 233.2h0M1241.6 242.8h0M1245.8 253.3h0M1249.3 260.9h0M1250.6 269.5h0M1255 281.1h0M1259.7 291.5h0M1264.5 302h0M1268.9 311.1h0M1272.2 321.5h0M1276.3 331.7h0M1277.5 339.9h0M1280.9 353.2h0M1282 360.3h0M1284.5 371.6h0M1288 382.4h0M1290 390.5h0M1291.6 401.2h0M1295.4 412.8h0M1297.2 420.9h0M1298.7 432.1h0M1299.4 441.3h0M1301.5 451.2h0M1302.6 461.7h0M1303.4 470.7h0M1304.4 480.7h0M1306.4 491.8h0M1307.9 501.1h0M1309.1 511.2h0M1310.3 519.5h0M1311.2 530.7h0M1312.8 541.8h0M1313.6 551.5h0M1315.4 560.9h0M1316.1 570h0M1316.7 579.8h0M1318.1 590.8h0M1319.8 601.8h0M1320.7 610.4h0M1322 621.6h0M1323.1 629.9h0M1324.7 641.4h0M1325.3 649.2h0M1326.3 660.3h0M1327.6 669h0M1328.8 680.7h0M1329.9 690.5h0M1331 699h0M1332 709.1h0M1333 719.4h0M1334.1 728.3h0M1335.2 738.8h0M1336.5 748.9h0M1337.7 760.4h0M1339 771h0M1339.7 779.1h0M1340.9 789.3h0M1341.8 799.7h0M1342.6 808.9h0"/>
<polyline points="1120,21.1 1121.4,31 1125.8,41 1134.1,50.9 1139,60.9 1142.8,70.9 1145.2,80.8 1149.3,90.8 1152.4,100.7 1155.9,110.7 1160,120.6 1165.5,130.6 1174.8,140.5 1186.6,150.5 1194.5,160.5 1199,170.4 1203.5,180.4 1208.7,190.3 1214.9,200.3 1221.8,210.2 1228.7,220.2 1236.3,230.2 1243.2,240.1 1248.3,250.1 1251.8,260 1254.9,270 1258.3,279.9 1261.8,289.9 1266.6,299.9 1271.4,309.8 1275.6,319.8 1278.7,329.7 1280.4,339.7 1282.5,349.6 1284.2,359.6 1286.6,369.5 1288.7,379.5 1290.8,389.5 1292.5,399.4 1295.9,409.4 1298,419.3 1299.3,429.3 1300.6,439.2 1301.9,449.2 1303.2,459.2 1304.5,469.1 1305.8,479.1 1307.2,489 1308.5,499 1309.8,508.9 1311.1,518.9 1312.2,528.8 1313.4,538.8 1314.6,548.8 1315.7,558.7 1316.9,568.7 1318.1,578.6 1319.3,588.6 1320.4,598.5 1321.6,608.5 1322.8,618.5 1323.8,628.4 1324.9,638.4 1326,648.3 1327,658.3 1328.1,668.2 1329.2,678.2 1330.2,688.2 1331.3,698.1 1332.4,708.1 1333.5,718 1334.6,728 1335.7,737.9 1336.8,747.9 1337.9,757.8 1339,767.8 1340.1,777.8 1341.2,787.7 1342.3,797.7 1343.4,807.6" fill="none" stroke="#0000ff" stroke-width="2.8" stroke-linejoin="round" stroke-linecap="butt"/>
<g fill="#0000ff"><circle cx="1120" cy="21.1" r="5.9"/><circle cx="1121.4" cy="31" r="5.9"/><circle cx="1125.8" cy="41" r="5.9"/><circle cx="1134.1" cy="50.9" r="5.9"/><circle cx="1139" cy="60.9" r="5.9"/><circle cx="1142.8" cy="70.9" r="5.9"/><circle cx="1145.2" cy="80.8" r="5.9"/><circle cx="1149.3" cy="90.8" r="5.9"/><circle cx="1152.4" cy="100.7" r="5.9"/><circle cx="1155.9" cy="110.7" r="5.9"/><circle cx="1160" cy="120.6" r="5.9"/><circle cx="1165.5" cy="130.6" r="5.9"/><circle cx="1174.8" cy="140.5" r="5.9"/><circle cx="1186.6" cy="150.5" r="5.9"/><circle cx="1194.5" cy="160.5" r="5.9"/><circle cx="1199" cy="170.4" r="5.9"/><circle cx="1203.5" cy="180.4" r="5.9"/><circle cx="1208.7" cy="190.3" r="5.9"/><circle cx="1214.9" cy="200.3" r="5.9"/><circle cx="1221.8" cy="210.2" r="5.9"/><circle cx="1228.7" cy="220.2" r="5.9"/><circle cx="1236.3" cy="230.2" r="5.9"/><circle cx="1243.2" cy="240.1" r="5.9"/><circle cx="1248.3" cy="250.1" r="5.9"/><circle cx="1251.8" cy="260" r="5.9"/><circle cx="1254.9" cy="270" r="5.9"/><circle cx="1258.3" cy="279.9" r="5.9"/><circle cx="1261.8" cy="289.9" r="5.9"/><circle cx="1266.6" cy="299.9" r="5.9"/><circle cx="1271.4" cy="309.8" r="5.9"/><circle cx="1275.6" cy="319.8" r="5.9"/><circle cx="1278.7" cy="329.7" r="5.9"/><circle cx="1280.4" cy="339.7" r="5.9"/><circle cx="1282.5" cy="349.6" r="5.9"/><circle cx="1284.2" cy="359.6" r="5.9"/><circle cx="1286.6" cy="369.5" r="5.9"/><circle cx="1288.7" cy="379.5" r="5.9"/><circle cx="1290.8" cy="389.5" r="5.9"/><circle cx="1292.5" cy="399.4" r="5.9"/><circle cx="1295.9" cy="409.4" r="5.9"/><circle cx="1298" cy="419.3" r="5.9"/><circle cx="1299.3" cy="429.3" r="5.9"/><circle cx="1300.6" cy="439.2" r="5.9"/><circle cx="1301.9" cy="449.2" r="5.9"/><circle cx="1303.2" cy="459.2" r="5.9"/><circle cx="1304.5" cy="469.1" r="5.9"/><circle cx="1305.8" cy="479.1" r="5.9"/><circle cx="1307.2" cy="489" r="5.9"/><circle cx="1308.5" cy="499" r="5.9"/><circle cx="1309.8" cy="508.9" r="5.9"/><circle cx="1311.1" cy="518.9" r="5.9"/><circle cx="1312.2" cy="528.8" r="5.9"/><circle cx="1313.4" cy="538.8" r="5.9"/><circle cx="1314.6" cy="548.8" r="5.9"/><circle cx="1315.7" cy="558.7" r="5.9"/><circle cx="1316.9" cy="568.7" r="5.9"/><circle cx="1318.1" cy="578.6" r="5.9"/><circle cx="1319.3" cy="588.6" r="5.9"/><circle cx="1320.4" cy="598.5" r="5.9"/><circle cx="1321.6" cy="608.5" r="5.9"/><circle cx="1322.8" cy="618.5" r="5.9"/><circle cx="1323.8" cy="628.4" r="5.9"/><circle cx="1324.9" cy="638.4" r="5.9"/><circle cx="1326" cy="648.3" r="5.9"/><circle cx="1327" cy="658.3" r="5.9"/><circle cx="1328.1" cy="668.2" r="5.9"/><circle cx="1329.2" cy="678.2" r="5.9"/><circle cx="1330.2" cy="688.2" r="5.9"/><circle cx="1331.3" cy="698.1" r="5.9"/><circle cx="1332.4" cy="708.1" r="5.9"/><circle cx="1333.5" cy="718" r="5.9"/><circle cx="1334.6" cy="728" r="5.9"/><circle cx="1335.7" cy="737.9" r="5.9"/><circle cx="1336.8" cy="747.9" r="5.9"/><circle cx="1337.9" cy="757.8" r="5.9"/><circle cx="1339" cy="767.8" r="5.9"/><circle cx="1340.1" cy="777.8" r="5.9"/><circle cx="1341.2" cy="787.7" r="5.9"/><circle cx="1342.3" cy="797.7" r="5.9"/><circle cx="1343.4" cy="807.6" r="5.9"/></g>
<polyline points="1120,19.4 1120,22.7 1120,26.6 1120,30.6 1120,34.6 1120,38.6 1120.3,42.6 1121.7,48.5 1125.2,58.5 1134.8,68.5 1142.1,78.4 1148.3,88.4 1154.1,98.3 1158.6,108.3 1162.8,118.2 1171,138.2 1180,158.1 1194.8,178 1208,197.9 1219.7,217.8 1253.5,267.6 1286.6,317.4 1306.6,416.9 1317.3,516.5 1327.3,616.1 1335.6,715.6 1342.9,815.2" fill="none" stroke="#ff0000" stroke-width="6.9" stroke-linejoin="round" stroke-linecap="butt"/>
<g fill="#ff0000"><circle cx="1120" cy="19.4" r="5.9"/><circle cx="1120" cy="22.7" r="5.9"/><circle cx="1120" cy="26.6" r="5.9"/><circle cx="1120" cy="30.6" r="5.9"/><circle cx="1120" cy="34.6" r="5.9"/><circle cx="1120" cy="38.6" r="5.9"/><circle cx="1120.3" cy="42.6" r="5.9"/><circle cx="1121.7" cy="48.5" r="5.9"/><circle cx="1125.2" cy="58.5" r="5.9"/><circle cx="1134.8" cy="68.5" r="5.9"/><circle cx="1142.1" cy="78.4" r="5.9"/><circle cx="1148.3" cy="88.4" r="5.9"/><circle cx="1154.1" cy="98.3" r="5.9"/><circle cx="1158.6" cy="108.3" r="5.9"/><circle cx="1162.8" cy="118.2" r="5.9"/><circle cx="1171" cy="138.2" r="5.9"/><circle cx="1180" cy="158.1" r="5.9"/><circle cx="1194.8" cy="178" r="5.9"/><circle cx="1208" cy="197.9" r="5.9"/><circle cx="1219.7" cy="217.8" r="5.9"/><circle cx="1253.5" cy="267.6" r="5.9"/><circle cx="1286.6" cy="317.4" r="5.9"/><circle cx="1306.6" cy="416.9" r="5.9"/><circle cx="1317.3" cy="516.5" r="5.9"/><circle cx="1327.3" cy="616.1" r="5.9"/><circle cx="1335.6" cy="715.6" r="5.9"/><circle cx="1342.9" cy="815.2" r="5.9"/></g>
<polyline points="1109.6,19.4 1109.6,22.7 1109.6,26.6 1109.6,30.6 1109.6,34.6 1109.6,38.6 1110,42.6 1113.1,48.5 1122.7,58.5 1134.1,68.5 1142.8,78.4 1147.6,88.4 1152.4,98.3 1156.6,108.3 1161.4,118.2 1173.5,138.2 1187.3,158.1 1198.6,178 1209,197.9 1227.6,217.8 1255.9,267.6 1278.7,317.4 1299.4,416.9 1311.8,516.5 1322.5,616.1 1332.8,715.6 1343.5,815.2" fill="none" stroke="#008000" stroke-width="2.8" stroke-linejoin="round" stroke-linecap="butt"/>
<g fill="#008000"><circle cx="1109.6" cy="19.4" r="5.9"/><circle cx="1109.6" cy="22.7" r="5.9"/><circle cx="1109.6" cy="26.6" r="5.9"/><circle cx="1109.6" cy="30.6" r="5.9"/><circle cx="1109.6" cy="34.6" r="5.9"/><circle cx="1109.6" cy="38.6" r="5.9"/><circle cx="1110" cy="42.6" r="5.9"/><circle cx="1113.1" cy="48.5" r="5.9"/><circle cx="1122.7" cy="58.5" r="5.9"/><circle cx="1134.1" cy="68.5" r="5.9"/><circle cx="1142.8" cy="78.4" r="5.9"/><circle cx="1147.6" cy="88.4" r="5.9"/><circle cx="1152.4" cy="98.3" r="5.9"/><circle cx="1156.6" cy="108.3" r="5.9"/><circle cx="1161.4" cy="118.2" r="5.9"/><circle cx="1173.5" cy="138.2" r="5.9"/><circle cx="1187.3" cy="158.1" r="5.9"/><circle cx="1198.6" cy="178" r="5.9"/><circle cx="1209" cy="197.9" r="5.9"/><circle cx="1227.6" cy="217.8" r="5.9"/><circle cx="1255.9" cy="267.6" r="5.9"/><circle cx="1278.7" cy="317.4" r="5.9"/><circle cx="1299.4" cy="416.9" r="5.9"/><circle cx="1311.8" cy="516.5" r="5.9"/><circle cx="1322.5" cy="616.1" r="5.9"/><circle cx="1332.8" cy="715.6" r="5.9"/><circle cx="1343.5" cy="815.2" r="5.9"/></g>
<polyline points="1092.7,19.7 1092.7,21.7 1092.7,24 1092.7,26.3 1092.7,28.8 1092.7,31.5 1093.1,34.5 1094.8,37.7 1097.6,41.4 1104.8,45.5 1118.6,50.2 1126.5,55.5 1134.8,61.7 1143.8,68.9 1151.7,77.2 1155.9,87.2 1158.6,98.9 1164.8,113.1 1171.7,129.8 1180.7,149.7 1197.6,173.8 1219.7,202.5 1244.9,237.1 1266.6,278.9 1293.5,329.1 1305.3,389.3 1311.5,461.7 1320.4,548.4 1329.7,652.1 1340.4,775.8 1351.8,922.5" fill="none" stroke="#ff00ff" stroke-width="2.8" stroke-linejoin="round" stroke-linecap="butt"/>
<g fill="#ff00ff"><circle cx="1092.7" cy="19.7" r="5.9"/><circle cx="1092.7" cy="21.7" r="5.9"/><circle cx="1092.7" cy="24" r="5.9"/><circle cx="1092.7" cy="26.3" r="5.9"/><circle cx="1092.7" cy="28.8" r="5.9"/><circle cx="1092.7" cy="31.5" r="5.9"/><circle cx="1093.1" cy="34.5" r="5.9"/><circle cx="1094.8" cy="37.7" r="5.9"/><circle cx="1097.6" cy="41.4" r="5.9"/><circle cx="1104.8" cy="45.5" r="5.9"/><circle cx="1118.6" cy="50.2" r="5.9"/><circle cx="1126.5" cy="55.5" r="5.9"/><circle cx="1134.8" cy="61.7" r="5.9"/><circle cx="1143.8" cy="68.9" r="5.9"/><circle cx="1151.7" cy="77.2" r="5.9"/><circle cx="1155.9" cy="87.2" r="5.9"/><circle cx="1158.6" cy="98.9" r="5.9"/><circle cx="1164.8" cy="113.1" r="5.9"/><circle cx="1171.7" cy="129.8" r="5.9"/><circle cx="1180.7" cy="149.7" r="5.9"/><circle cx="1197.6" cy="173.8" r="5.9"/><circle cx="1219.7" cy="202.5" r="5.9"/><circle cx="1244.9" cy="237.1" r="5.9"/><circle cx="1266.6" cy="278.9" r="5.9"/><circle cx="1293.5" cy="329.1" r="5.9"/><circle cx="1305.3" cy="389.3" r="5.9"/><circle cx="1311.5" cy="461.7" r="5.9"/><circle cx="1320.4" cy="548.4" r="5.9"/><circle cx="1329.7" cy="652.1" r="5.9"/><circle cx="1340.4" cy="775.8" r="5.9"/></g>
</g>
<rect x="1075.6" y="19.4" width="398.10000000000014" height="794.8000000000001" fill="none" stroke="#000" stroke-width="1.25"/>
<g stroke="#000" stroke-width="1.3">
<path d="M1108.6 814.2v5.6"/>
<path d="M1177.6 814.2v5.6"/>
<path d="M1246.6 814.2v5.6"/>
<path d="M1315.6 814.2v5.6"/>
<path d="M1384.6 814.2v5.6"/>
<path d="M1453.6 814.2v5.6"/>
<path d="M1075.6 19.4h-5.6"/>
<path d="M1075.6 68.5h-5.6"/>
<path d="M1075.6 118.2h-5.6"/>
<path d="M1075.6 168h-5.6"/>
<path d="M1075.6 217.8h-5.6"/>
<path d="M1075.6 267.6h-5.6"/>
<path d="M1075.6 317.4h-5.6"/>
<path d="M1075.6 367.2h-5.6"/>
<path d="M1075.6 416.9h-5.6"/>
<path d="M1075.6 466.7h-5.6"/>
<path d="M1075.6 516.5h-5.6"/>
<path d="M1075.6 566.3h-5.6"/>
<path d="M1075.6 616.1h-5.6"/>
<path d="M1075.6 665.8h-5.6"/>
<path d="M1075.6 715.6h-5.6"/>
<path d="M1075.6 765.4h-5.6"/>
</g>
<g font-size="16.67" fill="#000">
<text transform="translate(1107.3,850.8) rotate(-45)" text-anchor="middle" dominant-baseline="central">1022</text>
<text transform="translate(1176.3,850.8) rotate(-45)" text-anchor="middle" dominant-baseline="central">1024</text>
<text transform="translate(1245.3,850.8) rotate(-45)" text-anchor="middle" dominant-baseline="central">1026</text>
<text transform="translate(1314.3,850.8) rotate(-45)" text-anchor="middle" dominant-baseline="central">1028</text>
<text transform="translate(1383.3,850.8) rotate(-45)" text-anchor="middle" dominant-baseline="central">1030</text>
<text transform="translate(1452.3,850.8) rotate(-45)" text-anchor="middle" dominant-baseline="central">1032</text>
</g>
<g font-size="22.2" font-weight="bold" fill="#000">
<text x="176.6" y="871.8" letter-spacing="0.56">Temperature (</text>
<text x="360.2" y="864.3" font-size="15" font-style="italic" font-weight="normal">o</text>
<text x="371" y="871.8" font-style="italic" font-weight="normal">C</text>
<text x="385.9" y="871.8">)</text>
<text x="780.8" y="870" text-anchor="middle" letter-spacing="0.15">Salinity</text>
<text x="1273.8" y="896" text-anchor="middle" letter-spacing="0.36">Density (kg m-3)</text>
<text transform="translate(30,418.3) rotate(-90)" text-anchor="middle" letter-spacing="0.45">Depth (m)</text>
</g>
<text x="343" y="917.6" font-size="16.67" font-style="italic" fill="#000" letter-spacing="0.37" xml:space="preserve">Ocean Heat Content (kJ/cm^2) - Glider: 59.2390,  RTOFS: 57.5746,  ESPC: 62.9885,  CMEMS: 60.4520,</text>
<g font-size="22.2" font-weight="bold" fill="#000" letter-spacing="0.3">
<text x="1528.6" y="36.6">Comparison Date: 2025-09-01</text>
<text x="1528.6" y="89.8">Glider: ru29</text>
<text x="1528.6" y="116.5">Profiles: 16</text>
<text x="1528.6" y="143.1">First: 2025-09-01 00:29:29</text>
<text x="1528.6" y="169.7">Last: 2025-09-01 23:19:38</text>
<text x="1528.6" y="196.3">Method: Nearest-Neighbor</text>
</g>
<rect x="1685.2" y="647" width="163.6" height="144" rx="4.5" fill="#fff" stroke="#ccc" stroke-width="1.4"/>
<path d="M1693.2 666.4H1740.7" stroke="#0000ff" stroke-width="2.8"/><circle cx="1716.6" cy="666.4" r="6.2" fill="#0000ff"/>
<text x="1756.8" y="674.6" font-size="22.2" fill="#000">ru29</text>
<path d="M1693.2 701.0H1740.7" stroke="#ff0000" stroke-width="2.8"/><circle cx="1716.6" cy="701.0" r="6.2" fill="#ff0000"/>
<text x="1756.8" y="709.4" font-size="22.2" fill="#000">RTOFS</text>
<path d="M1693.2 735.4H1740.7" stroke="#008000" stroke-width="2.8"/><circle cx="1716.6" cy="735.4" r="6.2" fill="#008000"/>
<text x="1756.8" y="743.8" font-size="22.2" fill="#000">ESPC</text>
<path d="M1693.2 769.8H1740.7" stroke="#ff00ff" stroke-width="2.8"/><circle cx="1716.6" cy="769.8" r="6.2" fill="#ff00ff"/>
<text x="1756.8" y="777.8" font-size="22.2" fill="#000">CMEMS</text>
<clipPath id="cmap"><rect x="1568.2" y="307.2" width="398.29999999999995" height="218.50000000000006"/></clipPath>
<rect x="1568.2" y="307.2" width="398.29999999999995" height="218.50000000000006" fill="#97b6e1"/>
<g clip-path="url(#cmap)">
<g fill="#d2b48c" stroke="#000" stroke-width="2.1" stroke-linejoin="round">
<path d="M1565.1 333.9L1569.1 332.8L1570.6 333.3L1572.4 333.2L1573.7 332.9L1576.1 334L1578.2 332.6L1579.7 332.5L1581 332.7L1583.6 333L1585.7 333.2L1587 333.6L1588.9 332.5L1590.2 332.6L1594.3 332.5L1595 333.7L1596.3 333.8L1597.4 335.7L1597.6 337.3L1595.9 339.1L1596.2 339.5L1595.5 342.4L1593.9 343.6L1592.2 346.5L1592.2 348.7L1591 350.8L1590.5 351.5L1590.6 353.7L1589.7 354.7L1589.4 355.6L1588.3 359.4L1586.5 361.7L1586.1 363.6L1585 364.5L1585.6 367.9L1583.4 368.7L1583.5 370.3L1582.8 372.6L1581.6 374.5L1581.4 376.8L1580.4 377.7L1580.9 380.3L1580.2 382.7L1579.7 384.2L1578.9 386L1579.5 387.6L1578.1 390L1577.8 392.2L1576.8 393.2L1577.1 396.3L1576.7 397.5L1575.7 399.1L1574.7 400.9L1573.6 402.2L1572.9 403.9L1572.1 406.3L1571.7 407.5L1569.2 408.3L1571.7 410.5L1573.3 411L1576.9 410.2L1577.7 410.2L1579.8 410.7L1582.3 410.2L1583.7 410.8L1586 411.5L1587.7 411.1L1589 411.4L1591.6 412.1L1592.7 411.8L1594.7 411.5L1595.8 411.9L1598.9 411.5L1599.3 411L1600.7 411.6L1603.3 411.2L1604.8 410.5L1606.4 409L1607.8 408.9L1609.4 408.6L1611 408.7L1613.4 408.6L1614.7 409.3L1616.7 409.9L1617.2 409.7L1619.6 409.6L1621.8 410.3L1623.6 410.1L1625.5 410.5L1626.5 411.4L1628 412.5L1630.5 413.4L1632 413.3L1632.7 414.8L1634 416.3L1635.8 418.4L1637.1 419.1L1638.7 419.2L1640.2 420.2L1642.2 422.3L1642.8 424.9L1643.1 426.6L1642.2 428.3L1641.3 430.6L1641.1 432.5L1641.3 434.6L1640.8 435.7L1640.4 437.7L1639.5 439.8L1639.2 441.6L1638.6 443.5L1637.9 445.4L1638.1 447.8L1638.5 448.4L1637.4 451.1L1636.4 453.3L1636.2 454.2L1635.9 456.8L1635.6 458.2L1635.4 460.9L1634.3 462.3L1634.5 464.2L1635 466.4L1634 467.9L1634.5 471.1L1635 472.1L1635.8 473.9L1637.3 475.3L1637.4 477.1L1638.3 478.1L1639.7 480.2L1640.2 481.7L1641.2 484.2L1642.9 485.6L1644.1 486.8L1644.7 488.1L1646.2 488.8L1647.5 490.4L1648.5 490.8L1650 492.8L1650.9 493L1652.2 494.6L1653.3 495.7L1656.5 496.5L1658.5 498.6L1659.6 499.9L1661 500.5L1664.4 501.3L1666.3 502L1667.8 502.3L1668.3 501.6L1671.2 501L1672.5 500.9L1674.7 499.3L1676.6 499.7L1678.5 498.9L1681 497.7L1681.4 496.3L1684.4 495.7L1685.8 494.3L1686.8 493L1688.3 492.2L1689.6 491.2L1691.8 491.4L1693.5 492.2L1695.8 493.5L1698.1 492.3L1699.9 493.2L1701.2 493.9L1703.1 493.1L1705.6 495.1L1707.8 496.4L1708.6 498.6L1710.2 499.6L1712.8 501.1L1713.8 502.7L1715.7 503.9L1717.2 505.9L1719.5 506.9L1719.7 508.6L1721.5 509.6L1723 511.5L1723.9 512.4L1724.4 509.5L1724.9 508L1722.7 506.2L1725.1 504.7L1725.9 503.7L1728.1 502.6L1729.3 501.8L1731.3 499.7L1732.2 498L1734.1 496.3L1736 494.4L1738.7 493.2L1738.6 490.2L1739.3 489.4L1739.6 487.4L1739.8 485.1L1740.3 484.3L1741.3 481.9L1742 480.5L1744.4 479.1L1744.8 478.2L1746.9 476.6L1748.2 475.3L1749.7 473.8L1751.7 475.2L1753.4 476.5L1753.7 477L1756.5 477.5L1756.6 476L1757 473.4L1757 472.1L1759.5 471L1760.9 470.4L1763.2 469.7L1764.1 469.9L1765.9 468.9L1768.1 468.5L1769.3 467.9L1770.6 467.1L1772.4 465.5L1775 465.1L1775.9 464.2L1777.9 463.4L1779.2 463L1780.8 461.4L1782.7 461.1L1785 459.7L1786.1 457.7L1788.1 456.5L1789.6 455.9L1791.5 454.9L1793.3 456.3L1796.1 456.2L1796.1 456.4L1797.3 458.5L1797 461.3L1795.6 462L1795 462.6L1793.4 464.2L1790.6 463.8L1788.9 465.3L1786.9 468.1L1788 469.7L1789 471.5L1790.3 473.3L1790.8 474.6L1792.7 476.5L1791.2 477L1791.6 479.1L1791.4 480.4L1790.7 482.5L1789.9 483.3L1788.7 484.8L1787.4 486.5L1785.5 489.9L1785.3 492.2L1786.6 493.8L1787.5 494.5L1788.6 496.6L1789.2 497.7L1790.4 498.7L1793 499.3L1794 499L1795.1 498.4L1796.5 497.1L1797.7 494.9L1798.7 494.2L1798.6 491.8L1798.5 490L1797.4 488.5L1796.9 486.4L1796.2 483.8L1795.2 482.8L1793.9 480.7L1793.6 478.5L1793.9 477.9L1793.4 475.7L1795 474L1798.2 473.3L1798.7 470.7L1801.4 471.8L1803.9 470.5L1806.5 469.5L1809.3 468.9L1809 465.9L1808.2 464.3L1808 463.1L1810.5 459.4L1811 458.3L1814.3 460.2L1815.1 461.1L1814.8 463.7L1814.5 465.5L1814.8 467.3L1817.2 467.3L1819.2 466.5L1821.2 467.1L1823.5 467.8L1825.1 467.5L1826.8 468.1L1829.1 468.8L1831 470.2L1831.9 471.1L1833.5 473.6L1833.3 475.3L1835.4 476.6L1835.3 479L1836.1 479.2L1837 480.2L1838.4 480L1841 480.3L1843 480.2L1845.5 479.8L1847 479.8L1850.1 479.1L1852.3 479.1L1853.2 479.5L1854.8 479.2L1856.6 478.9L1858.5 478.8L1861.7 479.7L1862.5 480.7L1863.9 481.5L1864.9 483.1L1866.6 484L1869.1 484.8L1871.2 486.2L1874 486.3L1875.7 485.8L1877 485L1878.7 484L1881.8 483.9L1883.7 481.7L1885.1 481.1L1886.8 480.8L1890 482.3L1892.6 480.6L1894.1 477.8L1896.8 478.5L1898.3 477.7L1899.6 477.6L1902.2 477.7L1903.3 477.1L1905.4 477.9L1907.2 477.6L1908.1 478.2L1910.3 477.3L1912.3 476.4L1913.6 477.3L1915.5 477.8L1917.2 476.4L1918.6 477.1L1921.3 476.1L1922.3 476.8L1924.8 476.5L1925.7 477.2L1927 476.3L1929.4 478.6L1928.9 480.4L1929.3 482.6L1928.7 485.6L1926.5 486L1924.8 485.5L1923.7 485.7L1922.3 486.4L1920.3 485.8L1918.5 486L1917.1 486.4L1915.1 486.7L1916.5 488L1918.3 488.4L1921.2 489.2L1922.5 490.3L1923.5 491.4L1924.9 492.8L1926.3 494.8L1927.7 496.3L1928.8 497.8L1928.8 499L1929.5 502.4L1930.3 503L1931.4 504.7L1932.7 504.7L1934.7 505.4L1937.6 506L1938.1 506.5L1940.1 506.7L1941.9 508.6L1943.7 509.6L1944.7 509.6L1947.5 511.9L1948 512.6L1950.3 513.9L1951.8 514.7L1953.3 516.3L1954.7 516.7L1954.7 518.5L1956.5 520.4L1958.8 521.8L1959.3 523.7L1960.9 525.4L1961 527.7L1960.8 529.1L1961 530.7L1959.4 530.7L1957.8 530.7L1956.2 530.7L1954.6 530.7L1953 530.7L1951.4 530.7L1949.8 530.7L1948.1 530.7L1946.5 530.7L1944.9 530.7L1943.3 530.7L1941.7 530.7L1940.1 530.7L1938.5 530.7L1936.9 530.7L1935.3 530.7L1933.7 530.7L1932 530.7L1930.4 530.7L1928.8 530.7L1927.2 530.7L1925.6 530.7L1924 530.7L1922.4 530.7L1920.8 530.7L1919.2 530.7L1917.6 530.7L1916 530.7L1914.3 530.7L1912.7 530.7L1911.1 530.7L1909.5 530.7L1907.9 530.7L1906.3 530.7L1904.7 530.7L1903.1 530.7L1901.5 530.7L1899.9 530.7L1898.2 530.7L1896.6 530.7L1895 530.7L1893.4 530.7L1891.8 530.7L1890.2 530.7L1888.6 530.7L1887 530.7L1885.4 530.7L1883.8 530.7L1882.1 530.7L1880.5 530.7L1878.9 530.7L1877.3 530.7L1875.7 530.7L1874.1 530.7L1872.5 530.7L1870.9 530.7L1869.3 530.7L1867.7 530.7L1866.1 530.7L1864.4 530.7L1862.8 530.7L1861.2 530.7L1859.6 530.7L1858 530.7L1856.4 530.7L1854.8 530.7L1853.2 530.7L1851.6 530.7L1850 530.7L1848.3 530.7L1846.7 530.7L1845.1 530.7L1843.5 530.7L1841.9 530.7L1840.3 530.7L1838.7 530.7L1837.1 530.7L1835.5 530.7L1833.9 530.7L1832.3 530.7L1830.6 530.7L1829 530.7L1827.4 530.7L1825.8 530.7L1824.2 530.7L1822.6 530.7L1821 530.7L1819.4 530.7L1817.8 530.7L1816.2 530.7L1814.5 530.7L1812.9 530.7L1811.3 530.7L1809.7 530.7L1808.1 530.7L1806.5 530.7L1804.9 530.7L1803.3 530.7L1801.7 530.7L1800.1 530.7L1798.4 530.7L1796.8 530.7L1795.2 530.7L1793.6 530.7L1792 530.7L1790.4 530.7L1788.8 530.7L1787.2 530.7L1785.6 530.7L1784 530.7L1782.4 530.7L1780.7 530.7L1779.1 530.7L1777.5 530.7L1775.9 530.7L1774.3 530.7L1772.7 530.7L1771.1 530.7L1769.5 530.7L1767.9 530.7L1766.3 530.7L1764.6 530.7L1763 530.7L1761.4 530.7L1759.8 530.7L1758.2 530.7L1756.6 530.7L1755 530.7L1753.4 530.7L1751.8 530.7L1750.2 530.7L1748.6 530.7L1746.9 530.7L1745.3 530.7L1743.7 530.7L1742.1 530.7L1740.5 530.7L1738.9 530.7L1737.3 530.7L1735.7 530.7L1734.1 530.7L1732.5 530.7L1730.8 530.7L1729.2 530.7L1727.6 530.7L1726 530.7L1724.4 530.7L1722.8 530.7L1721.2 530.7L1719.6 530.7L1718 530.7L1716.4 530.7L1714.7 530.7L1714.5 529.1L1714.4 528L1713.8 526.1L1712.5 524.3L1711.1 523.8L1709.9 522.6L1708.8 521.7L1709 520.1L1707.9 519L1706.8 516.9L1704 515.6L1704 512L1705 510.5L1706.5 509.5L1705.9 507.7L1702.1 504.8L1700.9 503.5L1699.5 503.2L1697.4 502.1L1696 502L1694.5 501.1L1692.4 500.4L1689 500L1687.9 501.2L1685.9 503L1685.6 503.9L1684.2 506.2L1682.9 506.8L1681.3 508.1L1679.3 510.1L1676.3 511.1L1678.2 513.7L1679.5 514.7L1680.4 515.3L1682.2 517.5L1683.5 519.4L1681.7 521L1680.3 522.3L1677.5 522.6L1676.1 523.2L1672.1 522.5L1670.7 521.8L1669.1 519L1669.5 518L1668.6 515.9L1667.7 513.5L1664.9 514.4L1663.4 514L1661.2 513.5L1659.3 511.2L1657.5 511.7L1655.9 510.7L1654.8 510.3L1651.8 509.4L1650.3 509.2L1648.7 512.7L1646.9 511.2L1644.4 508.9L1642.8 506.3L1641.9 506.1L1641 506.1L1637.9 505L1636 504.5L1636.2 501.9L1637.1 500.5L1634.6 499.1L1634 496.4L1633.1 495.7L1631 494.5L1629 494L1626.4 492.6L1625.6 490.6L1624.2 490L1623.5 488.3L1621.5 488.1L1619.6 487.3L1620.1 489.2L1618.8 490.7L1616.8 490.8L1613.6 488.7L1611.8 488.3L1611 486.2L1610.6 484.8L1609.7 482.9L1609.6 481L1610.6 479.6L1610.4 477.9L1608.6 475L1610 474L1609.6 472.3L1608.4 470.1L1606.3 468.8L1604.9 467.4L1602.4 466.8L1601.4 464L1601 462.9L1599.7 460.1L1598.1 460.3L1597.1 458.3L1595.5 458L1595.6 455.9L1593.8 454.6L1591.8 453L1590.8 452L1589.6 450.6L1587.3 449.8L1585.6 448.1L1585.1 445.7L1583.1 445.8L1581 445.4L1579.8 445.3L1577.9 445.2L1574.6 445.2L1572.9 445.5L1571.7 444.6L1569.9 445.1L1568.7 444.4L1565.1 444.2L1565.1 442.6L1565.1 441L1565.1 439.3L1565.1 437.7L1565.1 436.1L1565.1 434.5L1565.1 432.9L1565.1 431.2L1565.1 429.6L1565.1 428L1565.1 426.4L1565.1 424.7L1565.1 423.1L1565.1 421.5L1565.1 419.9L1565.1 418.3L1565.1 416.6L1565.1 415L1565.1 413.4L1565.1 411.8L1565.1 410.1L1565.1 408.5L1565.1 406.9L1565.1 405.3L1565.1 403.7L1565.1 402L1565.1 400.4L1565.1 398.8L1565.1 397.2L1565.1 395.5L1565.1 393.9L1565.1 392.3L1565.1 390.7L1565.1 389.1L1565.1 387.4L1565.1 385.8L1565.1 384.2L1565.1 382.6L1565.1 380.9L1565.1 379.3L1565.1 377.7L1565.1 376.1L1565.1 374.5L1565.1 372.8L1565.1 371.2L1565.1 369.6L1565.1 368L1565.1 366.3L1565.1 364.7L1565.1 363.1L1565.1 361.5L1565.1 359.9L1565.1 358.2L1565.1 356.6L1565.1 355L1565.1 353.4L1565.1 351.7L1565.1 350.1L1565.1 348.5L1565.1 346.9L1565.1 345.3L1565.1 343.6L1565.1 342L1565.1 340.4L1565.1 338.8L1565.1 337.1L1565.1 335.5Z"/>
<path d="M1620.2 329L1621.5 328.3L1623.1 327.1L1624.3 325L1625.6 324.2L1627.2 323.3L1626.5 320.6L1629.2 320.2L1630.2 319.2L1632.5 318.5L1634.3 317.6L1635.9 316.1L1637.3 315.6L1639.3 315L1639.9 315.1L1642.6 314.9L1644.2 313.3L1645 313.3L1646.8 312.2L1648.4 312.8L1649.7 312.2L1652.3 311.7L1653.9 311.6L1655.9 311L1657.8 311.1L1659.9 310.4L1662.6 310.6L1664.2 311.2L1665.7 310.7L1667.8 310.8L1668.6 309.8L1671.7 310.3L1671.9 310.2L1674.3 311L1676.7 312.3L1679 312.6L1680.5 314.5L1681.4 314.9L1683.6 315.2L1685 315.4L1686.6 317.2L1688.9 318.2L1690.3 318.9L1691.2 318.9L1693.2 320.2L1694.8 320L1696.2 320.7L1698 321.5L1699.3 322.7L1700.9 323.7L1702.6 322.9L1705.7 325L1707.4 325.2L1708.5 325.7L1709.2 326.1L1711.4 327L1713.5 327.5L1713.9 329.6L1715.8 329.8L1717.3 331.1L1720 332.4L1721.1 332.9L1722.7 334L1723.4 334.5L1725.4 335.9L1726.7 336.4L1729.3 336.6L1729.6 338L1732 338.3L1733.6 338.6L1735.4 339L1737.2 339.1L1737.8 340.7L1739.2 342L1741 342.5L1742.6 343.5L1743.8 343.7L1746 344.5L1748.3 345.7L1750.4 346.7L1752.3 346.9L1754 348.6L1754.7 349.2L1756.9 350.2L1759.8 351.5L1757.6 352L1755.4 352.7L1753.3 352.5L1750.9 354.1L1749.1 354.4L1747.2 354.8L1744.7 355.1L1743.1 355.8L1740.6 355.7L1738.1 354.8L1736.5 355.9L1734.1 354.7L1732.8 355.5L1730.5 355L1729 355.4L1727.9 354.9L1726.9 355.5L1724.1 355.9L1722.6 356.9L1721.3 356L1719 356.2L1716.9 356.9L1714.7 357.4L1712.8 356.8L1715.2 353.5L1716 353.6L1717.9 352.2L1719.2 350.7L1720.1 349.1L1719.9 347.3L1717.5 345.2L1716.3 345.7L1713.3 344.8L1711.6 344.1L1709.9 344.1L1708.2 343.4L1706.9 342.9L1705.6 340.1L1703.8 339.1L1701.8 338.3L1701.2 336.3L1700.9 333.6L1698.4 333.5L1697.6 333.1L1694.2 332.2L1692.6 332.8L1690.8 331.6L1688.7 330.2L1686.5 330L1684 329.1L1682.8 327.9L1681 327.9L1679.2 326.6L1676.9 326.9L1675.3 325.7L1673.2 326.3L1671.2 325.7L1670.4 325.3L1667.3 323.1L1665.5 323.5L1664.2 321.8L1662.3 321.8L1661.4 321L1660.1 319.3L1658.4 319.3L1656.9 318.6L1654.7 318.7L1652.3 318.3L1651.2 318.7L1649.1 318.2L1647.5 318.5L1645.8 319.5L1644.1 319.8L1642 320.1L1640.6 321.7L1638.4 322.3L1636.4 323.8L1634.9 323.8L1633 325.2L1630.4 326.3L1628.7 326.7L1626.7 327.7L1625.4 328.3L1623.4 328.9L1622.1 329.6Z"/>
<path d="M1643.4 330.9L1645.9 328.6L1649.3 328.7L1651.4 331.8L1649.8 333.9L1648.2 335L1644.5 334.5L1643.8 332.2Z"/>
<path d="M1704.2 376.5L1706.5 376.2L1707.3 376.1L1709.7 374.9L1711.7 374.5L1713 374.4L1714.6 375.2L1716.7 375.2L1718.7 375.2L1719.7 375.3L1722.4 375.6L1724 376.3L1726.2 377.3L1728 378L1729.6 378.8L1731.7 380.9L1733.4 382.2L1730.2 384.1L1728.9 383.3L1727.1 384.4L1725.9 384.1L1723 385.4L1721.3 385.4L1720 386L1718 385.6L1717.7 385.2L1715.6 384.3L1714.1 384.1L1712.3 382.4L1710.5 381.7L1708.9 381.2L1706.7 380.1L1706.1 379Z"/>
<path d="M1768 357.5L1769 356.7L1771 356.9L1773 355.9L1774.2 355.6L1776.2 355.2L1777.1 356.5L1779.1 358L1781 357.5L1782.7 358.9L1784.4 358.9L1786.9 359.1L1788.8 358.4L1791.3 357.3L1793.1 356.8L1795.1 356.3L1796.3 355.8L1798.1 355.8L1801.3 356.5L1802.9 356.5L1805.5 357.5L1806.6 358.9L1809.1 358.1L1810.5 359.8L1812.9 359.6L1815.1 361.4L1815 364.3L1816.7 364.9L1818.7 364.8L1822 364.9L1824.1 367.2L1821.5 368L1819 367.9L1821.4 369.4L1823.2 369.4L1825.5 370L1826.9 370.2L1828.8 369.8L1829.2 371.7L1831.8 371.8L1833.6 373.3L1832.5 375.4L1832.2 377.2L1831.6 378.4L1831.7 380.4L1828.9 380.8L1826.7 377.9L1825.7 378.4L1823.7 377.7L1822.1 376.5L1820.1 377.2L1818.2 376.9L1816.7 376.6L1814.4 377.7L1812.3 379.3L1808.6 377.2L1806 376.5L1803.4 378.5L1802.8 378.2L1800.9 378.2L1798.6 380.5L1796.5 383.4L1796.2 384.9L1794.9 386.3L1793.6 387.3L1792.2 388L1791.5 386.5L1792.9 384.6L1790.6 381.6L1788.1 381L1787.9 380.7L1784.4 379.3L1783.4 378.7L1781.4 379L1778.9 378.7L1776.2 378.5L1774.3 379.5L1771.8 379.2L1770.6 379.4L1768.5 379.6L1766.3 380.8L1765.3 381.6L1763.3 382.2L1760.2 381L1757.9 379.3L1756.4 378.6L1755.5 376.3L1755.9 374.5L1757.2 373.8L1759.2 372.9L1760.5 372.9L1762.8 373.5L1764.9 373.7L1766.2 373.3L1768.9 374.5L1771.1 375.4L1773 374.9L1774.4 375.3L1777.2 374.5L1779.3 374.1L1781.4 374.1L1781.3 371.6L1779.1 369.6L1777.6 367.5L1776.6 363.9L1774.4 361.3L1771.7 360.1L1771.6 361.1L1769.1 359.2Z"/>
<path d="M1769.3 368.6L1772.3 368.2L1772.8 368.3L1775.3 370.3L1777.3 371.6L1774.2 372.6L1772.6 372.7L1771.9 371.7Z"/>
<path d="M1847.2 376L1849.8 375.7L1851.4 375.5L1852.6 375.3L1855.8 374.7L1857.3 375.4L1858.8 374.9L1860.5 374.9L1862.5 374.9L1864.8 375.3L1866.6 375.1L1869.1 376.7L1868.7 378.1L1867.3 380L1865 381.1L1863.3 381.8L1861.6 382.6L1859.7 383.2L1858.1 382.4L1856.5 383L1854.7 383.2L1854 383.3L1851.4 382.9L1850 382.8L1847.4 382.1L1847.6 381.3L1846.4 379.1L1847.5 377.9Z"/>
</g>
<path d="M1905.8 479.2L1912.4 479L1920.6 478.6L1921.5 481.5L1921.5 485L1916.8 485.6L1913 484.6L1909.2 482.1Z" fill="#97b6e1" stroke="#000" stroke-width="1.7" stroke-linejoin="round"/>
<path d="M1599.4 456L1603.6 455.6L1608 459L1613.1 462.8L1618.1 466.6L1621.5 470.7L1619.1 471.4L1614.3 470.4L1610.3 467.8L1607.8 463.5L1604 459.8Z" fill="#b9c2cc"/>
<g fill="none" stroke="#97b6e1" stroke-width="1.5" stroke-linejoin="round" stroke-linecap="round">
<path d="M1750.1 473.9L1749.2 479L1749.5 483.4L1750.5 490.3L1753.9 496L1760.9 500.4L1763.1 506.1L1762.9 515.6L1761.5 525.7"/>
<path d="M1849.2 525.7L1854.3 521.9L1859.3 519.1L1864.4 516.6L1869.4 515L1874.5 515.8L1878.3 516.9L1882.1 513.7L1884.6 512.4L1887.7 513.4L1890.9 513.1L1896 511.2L1901 509.3L1906.1 507.6L1909.9 506.1L1914.9 503.6L1921.2 503L1926.3 500.4"/>
<path d="M1909.9 490.3L1910.2 494.1L1911.4 496.9L1914.9 499.4L1914.9 503.6"/>
<path d="M1918.1 491.6L1916.8 496L1914.9 499.4"/>
<path d="M1597.9 441.7L1601.7 441.3L1604.8 442.1L1608.6 440.4L1610.5 437.3L1613.1 434.7"/>
<path d="M1616.8 428.4L1620.6 425.3L1625.7 425.6L1630.7 424L1635.8 422.7L1640.8 421.5"/>
<path d="M1621.5 470.7L1627 473.9L1632 476.7L1635.8 477.7"/>
<path d="M1684.4 495.6L1686.3 498.2L1688.2 500.7"/>
</g>
<g fill="none" stroke="#000" stroke-width="1.5" stroke-dasharray="5 2.3" stroke-linejoin="round">
<path d="M1568.2 419.8L1572 416.4L1576.4 413.3L1580.2 410.7"/>
<path d="M1568.2 434.1L1572.6 435.4L1576.4 436.6L1580.8 437L1584 437.5L1585.9 440.4L1586.8 442.9"/>
<path d="M1589.3 447.6L1593.1 446.7L1596 445.1L1597.3 441.7L1598.2 439.2L1601.7 437.9L1604.2 436.6L1608 435L1610.5 434.1L1613.7 430.9L1616.8 428.4L1620.6 424.6L1625.7 425L1630.7 424L1635.8 422.7L1640.8 421.5"/>
<path d="M1610.8 472.6L1614.3 472.4L1617.5 472L1620.6 472.9L1623.8 473.9L1627.6 475.2L1630.7 476.4L1633.9 477.7L1637.3 478.3"/>
<path d="M1647.4 492.8L1645.9 496L1646.2 499.2L1648.4 502.3L1647.8 505.5L1647.2 508L1648.4 511.8"/>
<path d="M1716.9 506.1L1718.5 509.3L1719.4 511.8L1716.6 514.6L1713.9 517.1L1711.6 519.4"/>
<path d="M1787.4 465.1L1784.9 467.6L1782.3 470.1L1779.6 472.6L1777.3 475.2L1775.8 479L1774.8 482.7L1774.1 486.5L1773.5 490.3L1771.6 493.5L1769.7 495.6L1773.5 497.3L1775 498.5L1776.3 501.7L1777.5 504.8L1779.6 508L1781.1 511.2L1780.4 515L1779.8 518.1L1781.3 521.3L1783.9 523.2L1788.7 524.2L1793.7 524.4L1800 524.8L1805.1 524.7L1810 525.3"/>
<path d="M1798.7 525.1L1803.7 524.4L1807.5 525.1L1810.7 526.3"/>
<path d="M1943 509.3L1940.2 511.2L1937.6 513.1L1934.9 515.6L1932.6 518.4L1931.3 520.9L1931.6 523.4L1933.9 524.2L1936.6 524.4"/>
<path d="M1789.2 359.2L1789.6 363L1790.1 366.7L1788.8 369.3L1788.1 371.8L1788.6 374.6L1789.6 377.1L1790.7 379.6"/>
<path d="M1568.2 383.2L1570.4 381.9L1572 382.3"/>
<path d="M1575.2 376.8L1577.1 376.2L1578.9 376.8"/>
</g>
<g fill="none" stroke="#000" stroke-linecap="round" stroke-linejoin="round">
<path d="M1669.9 311.2L1677.5 312.4L1685.1 315.2L1691.4 318.5" stroke-width="3.7"/>
<path d="M1691.4 318.5L1697.7 321L1704 322.8L1709.1 324.8L1713.5 327.6L1717.3 330.4" stroke-width="4.7"/>
<path d="M1717.3 330.4L1723 333.6L1728 336.4" stroke-width="2.9"/>
<path d="M1690.1 339.6L1695.2 342.1L1700.2 345L1705.3 346.8L1710.3 348" stroke-width="2.6"/>
<path d="M1695.8 340.2L1700.2 340.5" stroke-width="2.4"/>
<path d="M1707.8 345.9L1713.5 348.8L1716.6 348" stroke-width="3.2"/>
<path d="M1699 335.4L1701.2 337.7" stroke-width="2.6"/>
<path d="M1635.8 327.6L1640.8 328.3" stroke-width="2.4"/>
<path d="M1642.1 332.6L1643.6 333.9" stroke-width="3.4"/>
<path d="M1647.2 323.2L1648.4 325.7" stroke-width="2.9"/>
<path d="M1648.4 326.9L1651 327.6" stroke-width="2.6"/>
<path d="M1651 320L1656 320.6L1661.1 322.5" stroke-width="2.6"/>
<path d="M1652.8 326.6L1658.5 325.3L1663.6 324.8L1668.6 325.7" stroke-width="2.9"/>
<path d="M1653.5 332.9L1659.8 332.4L1664.9 332.6L1668.9 332.6" stroke-width="2.6"/>
<path d="M1619.4 329.5L1625.7 329.1" stroke-width="3.7"/>
<path d="M1594.1 349.7L1596.6 347.2" stroke-width="4.5"/>
<path d="M1585.9 359.8L1587.2 362.3" stroke-width="2.9"/>
<path d="M1578.9 371.8L1580.8 373.7" stroke-width="2.9"/>
<path d="M1575.2 376.2L1578.9 376.8" stroke-width="2.4"/>
<path d="M1583.4 388.2L1584 392" stroke-width="2.6"/>
<path d="M1582.1 393.3L1582.7 395.8" stroke-width="2.1"/>
<path d="M1580.2 383.2L1581.5 387" stroke-width="2.1"/>
<path d="M1577.7 397.1L1578.9 399.6" stroke-width="2.1"/>
<path d="M1597.9 404.4L1603 403.4L1608.6 402.5" stroke-width="3.4"/>
<path d="M1593.9 407.2L1595.1 407.4" stroke-width="3.9"/>
<path d="M1600.4 408.7L1601.1 409.1" stroke-width="2.4"/>
<path d="M1589.1 373.1L1589.7 374.1" stroke-width="1.9"/>
<path d="M1665.9 364L1669.7 364.5" stroke-width="4.2"/>
<path d="M1681.9 359.2L1687.3 358.3" stroke-width="2.9"/>
<path d="M1633 389.7L1633.5 389.9" stroke-width="2.1"/>
<path d="M1746.3 308.6L1748.9 311.8L1749.5 314.9" stroke-width="2.6"/>
<path d="M1740.6 309.9L1736.9 313.7L1735.8 318.1L1736.9 321.9L1738.4 325.7" stroke-width="2.6"/>
<path d="M1755.6 316.8L1759 318.1L1762.1 318.7L1760.9 321.9L1757.7 324.4L1755.2 325.7" stroke-width="2.9"/>
<path d="M1763.4 312.4L1765.3 312.7" stroke-width="2.9"/>
<path d="M1771 321.9L1774.8 322.3L1777.5 323.2" stroke-width="3.2"/>
<path d="M1780.1 332.6L1783 329.9L1786.8 328.2L1790.5 330.4L1793.1 333.9L1790.5 338.3" stroke-width="2.9"/>
<path d="M1796.9 335.2L1796 337.7" stroke-width="2.9"/>
<path d="M1773.5 333.9L1772.9 337.1L1771 339.6L1767.2 340.8L1764.6 341.2L1765.9 339.6L1769.7 339" stroke-width="2.9"/>
<path d="M1774.1 354.5L1777.2 354.4" stroke-width="3.2"/>
<path d="M1817.6 364.8L1822.1 365.2" stroke-width="4.7"/>
<path d="M1838.9 380.6L1839.1 380.8" stroke-width="3.7"/>
<path d="M1829 379.4L1830.3 379.9" stroke-width="3.2"/>
<path d="M1870.1 378.7L1872 378.1" stroke-width="3.7"/>
<path d="M1875.1 377.5L1879.5 376.2L1884 374.6L1885.2 372.4" stroke-width="3.2"/>
<path d="M1878 385.4L1881.1 385.4" stroke-width="3.7"/>
<path d="M1899.8 378.7L1901.6 379.4" stroke-width="3.4"/>
<path d="M1901.6 380.6L1903.5 383.2" stroke-width="3.2"/>
<path d="M1898.5 386.7L1899.5 387" stroke-width="2.6"/>
<path d="M1902.3 388.8L1906.1 392L1908 393.9" stroke-width="2.6"/>
<path d="M1916.2 385.9L1917.4 387.2" stroke-width="4.2"/>
<path d="M1909.9 395.8L1910.1 396.1" stroke-width="2.4"/>
<path d="M1911.8 398.3L1912.6 399.6" stroke-width="3.2"/>
<path d="M1916.8 393L1918.4 394.5" stroke-width="4.5"/>
<path d="M1918.7 404.6L1920 408.4L1922.5 410.3" stroke-width="5"/>
<path d="M1922.5 403.4L1926.3 404.9" stroke-width="4.2"/>
<path d="M1923.8 409.1L1924 409.7" stroke-width="4.2"/>
<path d="M1921.9 414.5L1923.1 417.7" stroke-width="4.5"/>
<path d="M1926.5 424.6L1928.8 428.4" stroke-width="5"/>
<path d="M1928.6 434.1L1927.8 438.5" stroke-width="4.5"/>
<path d="M1925.3 444.2L1924.8 448" stroke-width="3.9"/>
<path d="M1924 451.2L1921.9 455L1919.7 458.5" stroke-width="2.4"/>
<path d="M1917.7 460.3L1918.7 461.5" stroke-width="3.7"/>
<path d="M1945.5 444.6L1947.1 446.7" stroke-width="4.2"/>
<path d="M1930.1 471.6L1933.9 469.9" stroke-width="3.7"/>
<path d="M1900 469.1L1900.5 469.9" stroke-width="3.2"/>
<path d="M1810.7 453.1L1813.6 455.6" stroke-width="3.4"/>
<path d="M1822.7 456.2L1825.8 459L1828.4 460.6" stroke-width="3.7"/>
<path d="M1832.8 456.8L1834.7 460" stroke-width="3.7"/>
<path d="M1841.6 460.6L1844.8 461.5" stroke-width="2.1"/>
<path d="M1851.7 462.5L1855.5 463.8" stroke-width="4.5"/>
<path d="M1860.8 463.2L1862.1 463.5" stroke-width="3.2"/>
<path d="M1880.8 462.5L1884 463.8" stroke-width="2.6"/>
<path d="M1870.7 474.5L1873.5 475.4" stroke-width="3.7"/>
<path d="M1884 473.9L1887.7 472.6L1891.5 471.4" stroke-width="4.2"/>
<path d="M1884.6 475.8L1889.6 475.2L1892.4 477.7" stroke-width="3.4"/>
<path d="M1886.5 477.7L1889 480.2" stroke-width="4.2"/>
<path d="M1928.2 496.6L1930.1 500.4L1931.3 504.2" stroke-width="4.5"/>
<path d="M1907.1 482.7L1909.2 485.9L1912.4 487.5" stroke-width="2.6"/>
<path d="M1665.5 443.3L1666.1 443.6" stroke-width="3.4"/>
<path d="M1661.1 453.9L1661.8 454.2" stroke-width="3.7"/>
<path d="M1647.2 427.2L1649.1 429.7" stroke-width="2.6"/>
<path d="M1648.4 418.9L1650.3 419.8" stroke-width="2.4"/>
<path d="M1637.1 453.7L1639 455.6" stroke-width="2.6"/>
<path d="M1653.5 496L1656 498.5L1660.4 499.2" stroke-width="3.9"/>
<path d="M1694.5 506.7L1697.1 509.3L1698.3 508" stroke-width="5.2"/>
<path d="M1704.6 508.6L1709.1 509.5" stroke-width="4.2"/>
<path d="M1722.3 511.8L1724.9 513.1" stroke-width="4.2"/>
<path d="M1659.2 519.4L1661.1 521.9" stroke-width="4.5"/>
<path d="M1667.4 515.6L1669.9 518.1" stroke-width="3.7"/>
<path d="M1636.4 504.8L1640.8 506.5L1644 508" stroke-width="2.9"/>
<path d="M1615.6 484.6L1619.4 487.2L1621.9 488.8" stroke-width="3.4"/>
<path d="M1584 442.9L1587.2 446.1L1588.4 448.6" stroke-width="4.2"/>
<path d="M1607.4 474.5L1608.6 475.8" stroke-width="3.7"/>
<path d="M1645.9 510.5L1647.2 512.4" stroke-width="3.2"/>
<path d="M1652.8 509.9L1656 511.8" stroke-width="2.6"/>
<path d="M1784.2 459.4L1787.4 457.7" stroke-width="3.4"/>
<path d="M1753.9 475.8L1755.6 477.7" stroke-width="3.4"/>
<path d="M1791.2 475.8L1792.4 479" stroke-width="3.7"/>
<path d="M1808.9 461.3L1809.5 463.8" stroke-width="3.7"/>
<path d="M1632.6 413.9L1635.8 417.1" stroke-width="3.4"/>
</g>
</g>
<rect x="1568.2" y="307.2" width="398.29999999999995" height="218.50000000000006" fill="none" stroke="#000" stroke-width="1.4"/>
<path d="M1569.1 307.2v-2.8M1569.1 525.7v2.8M1581.9 307.2v-2.8M1581.9 525.7v2.8M1594.7 307.2v-2.8M1594.7 525.7v2.8M1607.5 307.2v-2.8M1607.5 525.7v2.8M1633.1 307.2v-2.8M1633.1 525.7v2.8M1645.9 307.2v-2.8M1645.9 525.7v2.8M1658.7 307.2v-2.8M1658.7 525.7v2.8M1671.5 307.2v-2.8M1671.5 525.7v2.8M1697.2 307.2v-2.8M1697.2 525.7v2.8M1710 307.2v-2.8M1710 525.7v2.8M1722.8 307.2v-2.8M1722.8 525.7v2.8M1735.6 307.2v-2.8M1735.6 525.7v2.8M1761.2 307.2v-2.8M1761.2 525.7v2.8M1774 307.2v-2.8M1774 525.7v2.8M1786.8 307.2v-2.8M1786.8 525.7v2.8M1799.6 307.2v-2.8M1799.6 525.7v2.8M1825.3 307.2v-2.8M1825.3 525.7v2.8M1838.1 307.2v-2.8M1838.1 525.7v2.8M1850.9 307.2v-2.8M1850.9 525.7v2.8M1863.7 307.2v-2.8M1863.7 525.7v2.8M1889.3 307.2v-2.8M1889.3 525.7v2.8M1902.1 307.2v-2.8M1902.1 525.7v2.8M1914.9 307.2v-2.8M1914.9 525.7v2.8M1927.7 307.2v-2.8M1927.7 525.7v2.8M1953.4 307.2v-2.8M1953.4 525.7v2.8M1966.2 307.2v-2.8M1966.2 525.7v2.8M1568.2 513.6h-2.8M1966.5 513.6h2.8M1568.2 500.7h-2.8M1966.5 500.7h2.8M1568.2 474.7h-2.8M1966.5 474.7h2.8M1568.2 461.6h-2.8M1966.5 461.6h2.8M1568.2 448.5h-2.8M1966.5 448.5h2.8M1568.2 435.3h-2.8M1966.5 435.3h2.8M1568.2 408.8h-2.8M1966.5 408.8h2.8M1568.2 395.4h-2.8M1966.5 395.4h2.8M1568.2 382h-2.8M1966.5 382h2.8M1568.2 368.5h-2.8M1966.5 368.5h2.8M1568.2 341.2h-2.8M1966.5 341.2h2.8M1568.2 327.4h-2.8M1966.5 327.4h2.8M1568.2 313.6h-2.8M1966.5 313.6h2.8" stroke="#000" stroke-width="1.4" fill="none"/>
<path d="M1620.3 307.2v-8.6M1620.3 525.7v8.6M1684.4 307.2v-8.6M1684.4 525.7v8.6M1748.4 307.2v-8.6M1748.4 525.7v8.6M1812.5 307.2v-8.6M1812.5 525.7v8.6M1876.5 307.2v-8.6M1876.5 525.7v8.6M1940.6 307.2v-8.6M1940.6 525.7v8.6M1568.2 487.7h-8.6M1966.5 487.7h8.6M1568.2 422.1h-8.6M1966.5 422.1h8.6M1568.2 354.9h-8.6M1966.5 354.9h8.6" stroke="#000" stroke-width="2.8" fill="none"/>
<g font-size="22.2" fill="#000">
<text x="1552.3" y="496.6" text-anchor="end">10°N</text>
<text x="1552.3" y="431" text-anchor="end">15°N</text>
<text x="1552.3" y="363.8" text-anchor="end">20°N</text>
<text transform="translate(1619.1,571) rotate(-45)" text-anchor="middle" dominant-baseline="central">85°W</text>
<text transform="translate(1683.2,571) rotate(-45)" text-anchor="middle" dominant-baseline="central">80°W</text>
<text transform="translate(1747.2,571) rotate(-45)" text-anchor="middle" dominant-baseline="central">75°W</text>
<text transform="translate(1811.2,571) rotate(-45)" text-anchor="middle" dominant-baseline="central">70°W</text>
<text transform="translate(1875.3,571) rotate(-45)" text-anchor="middle" dominant-baseline="central">65°W</text>
<text transform="translate(1939.4,571) rotate(-45)" text-anchor="middle" dominant-baseline="central">60°W</text>
</g>
<g stroke="#000" stroke-width="1" fill="#000">
<circle cx="1961.4" cy="492.3" r="3.6"/>
<circle cx="1961.4" cy="491.2" r="3.6"/>
<circle cx="1961.4" cy="490.4" r="3.6"/>
<circle cx="1961.4" cy="489.3" r="3.6"/>
<circle cx="1961.4" cy="488.6" r="3.6"/>
<circle cx="1961.4" cy="485.4" r="3.7" fill="#ff0000"/>
</g>
</svg>
</body></html>
